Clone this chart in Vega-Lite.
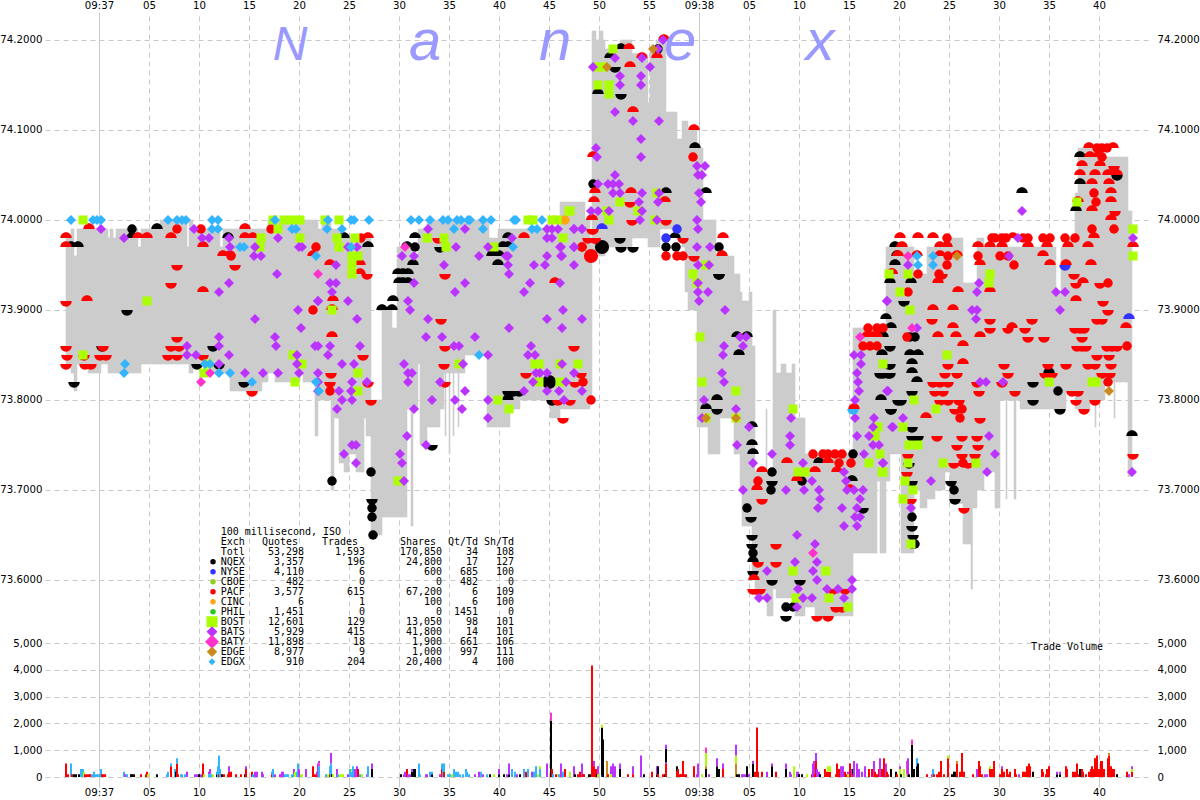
{"$schema":"https://vega.github.io/schema/vega-lite/v6.json","width":1105,"height":765,"autosize":{"type":"none"},"padding":{"left":45,"top":12,"right":50,"bottom":23},"background":"white","config":{"view":{"stroke":null},"axis":{"gridColor":"#c8c8c8","domain":false,"ticks":false,"labelFont":"DejaVu Sans","labelFontSize":10.2,"labelColor":"#000000"}},
"datasets":{
"bands":[
{"t":-3.3,"t2":-2.8,"hi":73.98,"lo":73.84},{"t":-2.8,"t2":-2.5,"hi":73.99,"lo":73.83},{"t":-2.5,"t2":-2.2,"hi":73.96,"lo":73.81},{"t":-2.2,"t2":-1.1,"hi":73.99,"lo":73.84},{"t":-1.1,"t2":0.2,"hi":73.99,"lo":73.83},{"t":0.2,"t2":0.9,"hi":73.99,"lo":73.84},{"t":0.9,"t2":1.1,"hi":73.98,"lo":73.83},{"t":1.1,"t2":1.4,"hi":73.99,"lo":73.83},{"t":1.4,"t2":1.7,"hi":73.98,"lo":73.83},{"t":1.7,"t2":3.9,"hi":73.99,"lo":73.83},{"t":3.9,"t2":4.2,"hi":73.97,"lo":73.83},{"t":4.2,"t2":6.1,"hi":73.99,"lo":73.84},{"t":6.1,"t2":8.8,"hi":74,"lo":73.84},{"t":8.8,"t2":9,"hi":73.97,"lo":73.84},{"t":9,"t2":9.4,"hi":74,"lo":73.83},{"t":9.4,"t2":11.3,"hi":73.99,"lo":73.84},{"t":11.3,"t2":12.1,"hi":73.99,"lo":73.83},{"t":12.1,"t2":12.4,"hi":73.97,"lo":73.83},{"t":12.4,"t2":13.1,"hi":73.99,"lo":73.83},{"t":13.1,"t2":16.3,"hi":73.99,"lo":73.81},{"t":16.3,"t2":16.9,"hi":73.99,"lo":73.82},{"t":16.9,"t2":17.6,"hi":74,"lo":73.83},{"t":17.6,"t2":20.1,"hi":74,"lo":73.82},{"t":20.1,"t2":20.4,"hi":74,"lo":73.83},{"t":20.4,"t2":21.6,"hi":74,"lo":73.82},{"t":21.6,"t2":21.9,"hi":74,"lo":73.76},{"t":21.9,"t2":22.3,"hi":73.99,"lo":73.8},{"t":22.3,"t2":23.2,"hi":74,"lo":73.8},{"t":23.2,"t2":23.5,"hi":73.99,"lo":73.7},{"t":23.5,"t2":24,"hi":73.99,"lo":73.78},{"t":24,"t2":24.5,"hi":73.99,"lo":73.73},{"t":24.5,"t2":25,"hi":73.98,"lo":73.72},{"t":25,"t2":25.7,"hi":73.98,"lo":73.74},{"t":25.7,"t2":26.5,"hi":73.98,"lo":73.72},{"t":26.5,"t2":26.7,"hi":73.97,"lo":73.78},{"t":26.7,"t2":27.2,"hi":73.98,"lo":73.76},{"t":27.2,"t2":28.3,"hi":73.8,"lo":73.65},{"t":28.3,"t2":29.3,"hi":73.9,"lo":73.67},{"t":29.3,"t2":29.8,"hi":73.88,"lo":73.67},{"t":29.8,"t2":30.8,"hi":73.97,"lo":73.67},{"t":30.8,"t2":31.2,"hi":73.97,"lo":73.79},{"t":31.2,"t2":31.4,"hi":73.97,"lo":73.66},{"t":31.4,"t2":31.9,"hi":73.96,"lo":73.79},{"t":31.9,"t2":32.1,"hi":73.99,"lo":73.84},{"t":32.1,"t2":32.8,"hi":73.99,"lo":73.75},{"t":32.8,"t2":33.5,"hi":74,"lo":73.77},{"t":33.5,"t2":34.1,"hi":74,"lo":73.77},{"t":34.1,"t2":34.5,"hi":74,"lo":73.79},{"t":34.5,"t2":36.6,"hi":74,"lo":73.83},{"t":34.6,"t2":34.7,"hi":73.84,"lo":73.76},{"t":35,"t2":35.1,"hi":73.84,"lo":73.74},{"t":35.4,"t2":35.5,"hi":73.84,"lo":73.76},{"t":35.9,"t2":36,"hi":73.84,"lo":73.77},{"t":36.6,"t2":38.8,"hi":74,"lo":73.85},{"t":38.8,"t2":39,"hi":74,"lo":73.77},{"t":39,"t2":39.9,"hi":73.98,"lo":73.77},{"t":39.9,"t2":41.1,"hi":73.99,"lo":73.77},{"t":41.1,"t2":42.1,"hi":73.99,"lo":73.79},{"t":42.1,"t2":45.1,"hi":73.99,"lo":73.8},{"t":45.1,"t2":46.1,"hi":73.99,"lo":73.78},{"t":46.1,"t2":48.6,"hi":74.02,"lo":73.79},{"t":48.6,"t2":49.1,"hi":74,"lo":73.79},{"t":49.1,"t2":49.3,"hi":73.98,"lo":73.8},{"t":49.3,"t2":49.7,"hi":74.21,"lo":73.96},{"t":49.7,"t2":50,"hi":74.2,"lo":73.96},{"t":50,"t2":50.4,"hi":74.21,"lo":73.96},{"t":50.4,"t2":50.6,"hi":74.2,"lo":73.96},{"t":50.6,"t2":52.1,"hi":74.19,"lo":73.97},{"t":52.1,"t2":53.3,"hi":74.2,"lo":73.97},{"t":53.3,"t2":53.9,"hi":74.185,"lo":73.98},{"t":53.9,"t2":54.9,"hi":74.18,"lo":73.98},{"t":54.9,"t2":55.1,"hi":74.13,"lo":73.97},{"t":55.1,"t2":55.7,"hi":74.19,"lo":73.97},{"t":55.7,"t2":56.1,"hi":74.2,"lo":73.97},{"t":56.1,"t2":56.7,"hi":74.2,"lo":73.99},{"t":56.7,"t2":57.8,"hi":74.12,"lo":73.99},{"t":57.8,"t2":58.3,"hi":74.09,"lo":73.98},{"t":58.3,"t2":58.6,"hi":74.11,"lo":73.97},{"t":58.6,"t2":58.9,"hi":74.11,"lo":73.92},{"t":58.9,"t2":59.8,"hi":74.1,"lo":73.9},{"t":59.8,"t2":60.4,"hi":74.08,"lo":73.77},{"t":60.4,"t2":60.9,"hi":74,"lo":73.77},{"t":60.9,"t2":61.7,"hi":74,"lo":73.74},{"t":61.7,"t2":62.1,"hi":73.96,"lo":73.74},{"t":62.1,"t2":63.5,"hi":73.96,"lo":73.78},{"t":63.5,"t2":64.1,"hi":73.94,"lo":73.74},{"t":64.1,"t2":64.3,"hi":73.92,"lo":73.7},{"t":64.3,"t2":65,"hi":73.91,"lo":73.66},{"t":65,"t2":65.3,"hi":73.92,"lo":73.66},{"t":65.3,"t2":65.6,"hi":73.86,"lo":73.61},{"t":65.6,"t2":66.7,"hi":73.72,"lo":73.58},{"t":66.7,"t2":66.8,"hi":73.79,"lo":73.58},{"t":66.8,"t2":67.4,"hi":73.72,"lo":73.56},{"t":67.4,"t2":67.7,"hi":73.9,"lo":73.59},{"t":67.7,"t2":68.2,"hi":73.83,"lo":73.58},{"t":68.2,"t2":68.7,"hi":73.84,"lo":73.58},{"t":68.7,"t2":69.3,"hi":73.83,"lo":73.58},{"t":69.3,"t2":69.6,"hi":73.84,"lo":73.58},{"t":69.6,"t2":70.6,"hi":73.78,"lo":73.56},{"t":70.6,"t2":71.6,"hi":73.74,"lo":73.57},{"t":71.6,"t2":75.4,"hi":73.74,"lo":73.56},{"t":75.4,"t2":77.8,"hi":73.88,"lo":73.63},{"t":77.8,"t2":78.1,"hi":73.88,"lo":73.71},{"t":78.1,"t2":78.7,"hi":73.88,"lo":73.63},{"t":78.7,"t2":79.1,"hi":73.97,"lo":73.71},{"t":79.1,"t2":80.2,"hi":73.97,"lo":73.74},{"t":80.2,"t2":81.5,"hi":73.97,"lo":73.63},{"t":81.5,"t2":82.1,"hi":73.94,"lo":73.7},{"t":82.1,"t2":82.8,"hi":73.94,"lo":73.68},{"t":82.8,"t2":83.6,"hi":73.97,"lo":73.69},{"t":83.6,"t2":84.6,"hi":73.97,"lo":73.7},{"t":84.6,"t2":85.1,"hi":73.97,"lo":73.72},{"t":85.1,"t2":86.4,"hi":73.98,"lo":73.685},{"t":86.4,"t2":87.3,"hi":73.93,"lo":73.64},{"t":87.2,"t2":87.35,"hi":73.7,"lo":73.59},{"t":87.3,"t2":87.8,"hi":73.93,"lo":73.68},{"t":87.8,"t2":88.5,"hi":73.98,"lo":73.7},{"t":88.5,"t2":89.6,"hi":73.97,"lo":73.72},{"t":89.6,"t2":90.1,"hi":73.97,"lo":73.68},{"t":90.1,"t2":92.1,"hi":73.97,"lo":73.8},{"t":90.7,"t2":90.8,"hi":73.8,"lo":73.69},{"t":91.5,"t2":91.7,"hi":73.8,"lo":73.69},{"t":92.1,"t2":95.7,"hi":73.97,"lo":73.79},{"t":95.7,"t2":96.2,"hi":73.92,"lo":73.79},{"t":96.2,"t2":96.7,"hi":73.97,"lo":73.79},{"t":96.7,"t2":97.6,"hi":73.98,"lo":73.81},{"t":97.6,"t2":97.9,"hi":74.03,"lo":73.79},{"t":97.9,"t2":99.1,"hi":74.08,"lo":73.79},{"t":99.1,"t2":100.6,"hi":74.08,"lo":73.8},{"t":99.6,"t2":99.7,"hi":73.8,"lo":73.77},{"t":100.6,"t2":102.9,"hi":74.07,"lo":73.82},{"t":101.5,"t2":101.6,"hi":73.82,"lo":73.78},{"t":102.9,"t2":103.3,"hi":74.01,"lo":73.715}
],
"volume":[
{"t":-3.3,"v":500,"e":"PACF"},{"t":-3.1,"v":100,"e":"PACF"},{"t":-2.8,"v":500,"e":"EDGX"},{"t":-2.7,"v":100,"e":"PACF"},{"t":-2.5,"v":100,"e":"NQEX"},{"t":-2.3,"v":100,"e":"NQEX"},{"t":-2,"v":100,"e":"NQEX"},{"t":-1.8,"v":300,"e":"EDGX"},{"t":-1.7,"v":100,"e":"EDGX"},{"t":-1.6,"v":300,"e":"EDGX"},{"t":-1.5,"v":200,"e":"BOST"},{"t":-1.4,"v":100,"e":"PACF"},{"t":-1.2,"v":100,"e":"PACF"},{"t":-1,"v":100,"e":"PACF"},{"t":-0.9,"v":100,"e":"PACF"},{"t":-0.7,"v":100,"e":"EDGX"},{"t":-0.5,"v":200,"e":"EDGX"},{"t":-0.4,"v":100,"e":"EDGX"},{"t":-0.2,"v":100,"e":"EDGX"},{"t":-0.1,"v":100,"e":"EDGX"},{"t":0.1,"v":100,"e":"EDGX"},{"t":0.2,"v":300,"e":"EDGX"},{"t":0.3,"v":100,"e":"PACF"},{"t":0.4,"v":100,"e":"PACF"},{"t":0.6,"v":100,"e":"PACF"},{"t":2.5,"v":200,"e":"EDGX"},{"t":2.6,"v":100,"e":"BATS"},{"t":2.8,"v":100,"e":"EDGX"},{"t":3.2,"v":100,"e":"NQEX"},{"t":3.3,"v":100,"e":"NQEX"},{"t":3.5,"v":100,"e":"NQEX"},{"t":4.2,"v":100,"e":"PACF"},{"t":4.7,"v":100,"e":"PACF"},{"t":4.8,"v":200,"e":"PACF"},{"t":4.9,"v":100,"e":"BOST"},{"t":5.8,"v":100,"e":"NQEX"},{"t":6.8,"v":100,"e":"EDGX"},{"t":6.9,"v":200,"e":"EDGX"},{"t":7.2,"v":400,"e":"PACF"},{"t":7.2,"v":100,"e":"EDGX"},{"t":7.6,"v":300,"e":"EDGX"},{"t":7.7,"v":200,"e":"NQEX"},{"t":7.8,"v":500,"e":"PACF"},{"t":7.8,"v":200,"e":"EDGX"},{"t":7.9,"v":100,"e":"PACF"},{"t":8.2,"v":100,"e":"EDGX"},{"t":8.3,"v":100,"e":"EDGX"},{"t":8.6,"v":100,"e":"EDGX"},{"t":8.8,"v":200,"e":"BATS"},{"t":9.6,"v":100,"e":"BATS"},{"t":9.8,"v":100,"e":"BATS"},{"t":10,"v":100,"e":"NQEX"},{"t":10.2,"v":100,"e":"BATS"},{"t":10.4,"v":500,"e":"PACF"},{"t":10.5,"v":100,"e":"BOST"},{"t":11,"v":100,"e":"BATS"},{"t":11,"v":100,"e":"EDGX"},{"t":11.1,"v":200,"e":"BATS"},{"t":11.1,"v":100,"e":"EDGX"},{"t":11.3,"v":100,"e":"EDGX"},{"t":11.4,"v":100,"e":"BOST"},{"t":11.8,"v":100,"e":"NQEX"},{"t":11.8,"v":100,"e":"EDGX"},{"t":11.9,"v":400,"e":"EDGX"},{"t":12,"v":100,"e":"PACF"},{"t":12,"v":700,"e":"EDGX"},{"t":12.1,"v":300,"e":"EDGX"},{"t":12.3,"v":100,"e":"NQEX"},{"t":12.5,"v":100,"e":"PACF"},{"t":12.9,"v":100,"e":"PACF"},{"t":13,"v":200,"e":"PACF"},{"t":13,"v":200,"e":"BATS"},{"t":13.2,"v":200,"e":"PACF"},{"t":13.7,"v":100,"e":"PACF"},{"t":14.2,"v":100,"e":"PACF"},{"t":14.6,"v":100,"e":"NQEX"},{"t":14.7,"v":300,"e":"PACF"},{"t":14.7,"v":100,"e":"BATS"},{"t":15.3,"v":200,"e":"PACF"},{"t":15.4,"v":100,"e":"EDGX"},{"t":15.6,"v":200,"e":"BATS"},{"t":15.8,"v":200,"e":"BATS"},{"t":16.3,"v":200,"e":"BATS"},{"t":16.4,"v":100,"e":"BATS"},{"t":17.3,"v":100,"e":"EDGX"},{"t":17.3,"v":100,"e":"PACF"},{"t":17.4,"v":300,"e":"EDGX"},{"t":17.6,"v":100,"e":"BATS"},{"t":18.1,"v":100,"e":"BATS"},{"t":18.3,"v":200,"e":"BATS"},{"t":18.4,"v":200,"e":"BATS"},{"t":18.6,"v":100,"e":"EDGX"},{"t":18.8,"v":100,"e":"EDGX"},{"t":18.9,"v":100,"e":"EDGX"},{"t":19.3,"v":100,"e":"EDGX"},{"t":19.5,"v":200,"e":"BATS"},{"t":19.5,"v":100,"e":"EDGX"},{"t":19.6,"v":200,"e":"BOST"},{"t":19.8,"v":200,"e":"EDGX"},{"t":19.9,"v":500,"e":"EDGX"},{"t":20,"v":300,"e":"BATS"},{"t":20.2,"v":100,"e":"BOST"},{"t":20.3,"v":100,"e":"BOST"},{"t":20.7,"v":300,"e":"BATS"},{"t":21.4,"v":400,"e":"PACF"},{"t":21.6,"v":100,"e":"PACF"},{"t":21.8,"v":100,"e":"PACF"},{"t":21.8,"v":100,"e":"BATS"},{"t":21.9,"v":500,"e":"BATS"},{"t":22,"v":100,"e":"BATS"},{"t":22,"v":100,"e":"BATY"},{"t":22,"v":400,"e":"EDGX"},{"t":22.7,"v":100,"e":"EDGX"},{"t":22.9,"v":100,"e":"BOST"},{"t":23.1,"v":100,"e":"PACF"},{"t":23.1,"v":300,"e":"EDGX"},{"t":23.2,"v":400,"e":"BATS"},{"t":23.2,"v":500,"e":"EDGX"},{"t":23.3,"v":100,"e":"NQEX"},{"t":23.4,"v":100,"e":"BOST"},{"t":23.8,"v":300,"e":"BATS"},{"t":23.9,"v":100,"e":"EDGX"},{"t":24.1,"v":100,"e":"BOST"},{"t":24.3,"v":100,"e":"BOST"},{"t":24.4,"v":100,"e":"BOST"},{"t":24.9,"v":100,"e":"BATS"},{"t":25.1,"v":300,"e":"EDGX"},{"t":25.3,"v":200,"e":"EDGX"},{"t":25.3,"v":100,"e":"BOST"},{"t":25.4,"v":400,"e":"EDGX"},{"t":25.6,"v":300,"e":"BATS"},{"t":25.8,"v":400,"e":"BATS"},{"t":25.9,"v":300,"e":"PACF"},{"t":26.1,"v":100,"e":"EDGX"},{"t":26.3,"v":100,"e":"BOST"},{"t":26.8,"v":100,"e":"BATS"},{"t":26.9,"v":400,"e":"EDGX"},{"t":27.3,"v":300,"e":"NQEX"},{"t":27.3,"v":200,"e":"BATS"},{"t":30.2,"v":100,"e":"NQEX"},{"t":30.5,"v":100,"e":"BATS"},{"t":30.6,"v":200,"e":"BATS"},{"t":30.8,"v":300,"e":"PACF"},{"t":30.9,"v":100,"e":"BATS"},{"t":31.1,"v":100,"e":"BATS"},{"t":31.3,"v":200,"e":"NQEX"},{"t":31.3,"v":100,"e":"BATS"},{"t":31.5,"v":300,"e":"NQEX"},{"t":31.6,"v":300,"e":"NQEX"},{"t":32,"v":500,"e":"EDGX"},{"t":32.1,"v":100,"e":"EDGX"},{"t":32.7,"v":100,"e":"BATS"},{"t":32.8,"v":100,"e":"BATS"},{"t":33.1,"v":200,"e":"EDGX"},{"t":33.3,"v":100,"e":"NQEX"},{"t":33.3,"v":100,"e":"EDGX"},{"t":34.1,"v":100,"e":"BATS"},{"t":34.3,"v":300,"e":"PACF"},{"t":34.3,"v":200,"e":"EDGX"},{"t":34.4,"v":400,"e":"EDGX"},{"t":34.5,"v":200,"e":"PACF"},{"t":34.5,"v":300,"e":"EDGX"},{"t":34.9,"v":100,"e":"EDGX"},{"t":35.1,"v":100,"e":"EDGX"},{"t":35.3,"v":100,"e":"BOST"},{"t":35.5,"v":300,"e":"EDGX"},{"t":35.7,"v":200,"e":"EDGX"},{"t":35.9,"v":200,"e":"EDGX"},{"t":36.1,"v":100,"e":"EDGX"},{"t":36.4,"v":100,"e":"EDGX"},{"t":36.7,"v":300,"e":"EDGX"},{"t":36.8,"v":200,"e":"EDGX"},{"t":37,"v":100,"e":"EDGX"},{"t":37.6,"v":100,"e":"BATS"},{"t":38,"v":200,"e":"BATS"},{"t":38.2,"v":200,"e":"EDGX"},{"t":38.4,"v":100,"e":"BATS"},{"t":38.8,"v":100,"e":"EDGX"},{"t":39.1,"v":100,"e":"NQEX"},{"t":39.5,"v":100,"e":"BOST"},{"t":40,"v":100,"e":"NQEX"},{"t":40,"v":200,"e":"BATS"},{"t":40.5,"v":100,"e":"NQEX"},{"t":40.8,"v":100,"e":"BATS"},{"t":41,"v":100,"e":"NQEX"},{"t":41,"v":400,"e":"BATS"},{"t":41.3,"v":300,"e":"EDGX"},{"t":41.6,"v":200,"e":"EDGX"},{"t":41.8,"v":100,"e":"BATS"},{"t":42.1,"v":100,"e":"NQEX"},{"t":42.5,"v":300,"e":"EDGX"},{"t":42.7,"v":200,"e":"PACF"},{"t":42.9,"v":300,"e":"EDGX"},{"t":43.3,"v":200,"e":"BATS"},{"t":43.5,"v":200,"e":"EDGX"},{"t":43.7,"v":400,"e":"EDGX"},{"t":43.9,"v":100,"e":"BOST"},{"t":44.1,"v":300,"e":"EDGX"},{"t":44.1,"v":100,"e":"BOST"},{"t":44.8,"v":500,"e":"BATS"},{"t":45.2,"v":2100,"e":"NQEX"},{"t":45.2,"v":300,"e":"BATY"},{"t":45.3,"v":300,"e":"PACF"},{"t":45.4,"v":100,"e":"EDGX"},{"t":45.7,"v":100,"e":"PACF"},{"t":45.9,"v":100,"e":"BOST"},{"t":46,"v":100,"e":"EDGX"},{"t":46.2,"v":500,"e":"BATS"},{"t":46.4,"v":200,"e":"EDGX"},{"t":46.6,"v":300,"e":"PACF"},{"t":47.1,"v":200,"e":"BOST"},{"t":47.5,"v":400,"e":"BATS"},{"t":47.6,"v":100,"e":"NQEX"},{"t":47.9,"v":100,"e":"PACF"},{"t":48.1,"v":200,"e":"PACF"},{"t":48.3,"v":500,"e":"BATS"},{"t":48.4,"v":100,"e":"PACF"},{"t":48.5,"v":100,"e":"PACF"},{"t":49,"v":100,"e":"NQEX"},{"t":49.2,"v":100,"e":"NQEX"},{"t":49.3,"v":4160,"e":"PACF"},{"t":49.4,"v":500,"e":"PACF"},{"t":49.5,"v":400,"e":"PACF"},{"t":49.5,"v":200,"e":"BATS"},{"t":49.7,"v":300,"e":"PACF"},{"t":49.8,"v":100,"e":"NQEX"},{"t":49.9,"v":300,"e":"BATS"},{"t":49.9,"v":100,"e":"BOST"},{"t":50.3,"v":1800,"e":"NQEX"},{"t":50.3,"v":50,"e":"NYSE"},{"t":50.3,"v":100,"e":"BOST"},{"t":50.4,"v":1400,"e":"NQEX"},{"t":50.8,"v":600,"e":"EDGE"},{"t":50.9,"v":100,"e":"PACF"},{"t":51.2,"v":300,"e":"BATS"},{"t":51.2,"v":100,"e":"BOST"},{"t":51.4,"v":500,"e":"BATS"},{"t":51.6,"v":400,"e":"BATS"},{"t":52.1,"v":300,"e":"NQEX"},{"t":52.1,"v":200,"e":"BATS"},{"t":52.9,"v":100,"e":"PACF"},{"t":53.4,"v":300,"e":"BATS"},{"t":53.4,"v":100,"e":"PACF"},{"t":54.2,"v":800,"e":"BATS"},{"t":54.5,"v":100,"e":"NQEX"},{"t":55.3,"v":200,"e":"PACF"},{"t":55.8,"v":100,"e":"NQEX"},{"t":55.8,"v":300,"e":"BATS"},{"t":55.9,"v":300,"e":"NQEX"},{"t":55.9,"v":100,"e":"PACF"},{"t":56.4,"v":100,"e":"PACF"},{"t":56.6,"v":100,"e":"NQEX"},{"t":56.7,"v":500,"e":"NQEX"},{"t":56.7,"v":50,"e":"NYSE"},{"t":56.7,"v":500,"e":"PACF"},{"t":56.7,"v":150,"e":"BATS"},{"t":57.8,"v":200,"e":"NQEX"},{"t":57.8,"v":200,"e":"PACF"},{"t":57.9,"v":300,"e":"PACF"},{"t":58.1,"v":100,"e":"PACF"},{"t":58.2,"v":100,"e":"PACF"},{"t":58.3,"v":100,"e":"PACF"},{"t":58.4,"v":600,"e":"PACF"},{"t":58.5,"v":100,"e":"PACF"},{"t":58.7,"v":100,"e":"PACF"},{"t":59.5,"v":400,"e":"PACF"},{"t":59.8,"v":100,"e":"BATS"},{"t":59.9,"v":500,"e":"BATS"},{"t":60.3,"v":100,"e":"BOST"},{"t":60.7,"v":300,"e":"NQEX"},{"t":60.7,"v":500,"e":"BOST"},{"t":60.7,"v":200,"e":"BATY"},{"t":60.7,"v":100,"e":"EDGE"},{"t":61,"v":100,"e":"BATS"},{"t":61.8,"v":400,"e":"NQEX"},{"t":61.8,"v":300,"e":"BATS"},{"t":62,"v":300,"e":"NQEX"},{"t":62.4,"v":300,"e":"PACF"},{"t":62.4,"v":200,"e":"BATS"},{"t":63.7,"v":300,"e":"BOST"},{"t":63.7,"v":400,"e":"BATS"},{"t":63.7,"v":500,"e":"EDGE"},{"t":63.8,"v":100,"e":"NQEX"},{"t":64,"v":100,"e":"NQEX"},{"t":64.3,"v":100,"e":"BATS"},{"t":64.5,"v":100,"e":"BATS"},{"t":64.7,"v":100,"e":"BATS"},{"t":64.9,"v":100,"e":"BATS"},{"t":65,"v":100,"e":"BATS"},{"t":64.8,"v":400,"e":"NQEX"},{"t":65.4,"v":500,"e":"NQEX"},{"t":65.4,"v":100,"e":"BATS"},{"t":65.6,"v":200,"e":"PACF"},{"t":65.8,"v":1850,"e":"PACF"},{"t":65.9,"v":200,"e":"PACF"},{"t":66.3,"v":200,"e":"PACF"},{"t":66.8,"v":200,"e":"BATS"},{"t":67.3,"v":400,"e":"NQEX"},{"t":67.3,"v":100,"e":"BATS"},{"t":67.7,"v":200,"e":"PACF"},
{"t":68.7,"v":300,"e":"NQEX"},{"t":68.7,"v":200,"e":"BATS"},{"t":69.1,"v":200,"e":"BATS"},{"t":69.2,"v":100,"e":"BATS"},{"t":69.5,"v":400,"e":"BOST"},{"t":69.8,"v":200,"e":"BATS"},{"t":69.9,"v":200,"e":"BATS"},{"t":70,"v":100,"e":"NQEX"},{"t":70.3,"v":100,"e":"NQEX"},{"t":70.8,"v":100,"e":"BOST"},{"t":71.3,"v":100,"e":"PACF"},{"t":71.4,"v":500,"e":"BATS"},{"t":71.5,"v":600,"e":"BATS"},{"t":71.6,"v":100,"e":"PACF"},{"t":71.7,"v":600,"e":"PACF"},{"t":71.7,"v":300,"e":"BATS"},{"t":71.8,"v":300,"e":"BATS"},{"t":72,"v":200,"e":"BATS"},{"t":72.1,"v":100,"e":"NQEX"},{"t":72.6,"v":300,"e":"PACF"},{"t":72.7,"v":200,"e":"PACF"},{"t":72.9,"v":200,"e":"PACF"},{"t":72.9,"v":200,"e":"BOST"},{"t":73.1,"v":200,"e":"PACF"},{"t":73.1,"v":200,"e":"BOST"},{"t":73.7,"v":100,"e":"PACF"},{"t":73.8,"v":500,"e":"PACF"},{"t":74,"v":300,"e":"PACF"},{"t":74.2,"v":400,"e":"BATS"},{"t":74.4,"v":400,"e":"BATS"},{"t":74.6,"v":200,"e":"PACF"},{"t":74.8,"v":100,"e":"PACF"},{"t":74.9,"v":100,"e":"BATS"},{"t":74.9,"v":100,"e":"BOST"},{"t":75.1,"v":500,"e":"PACF"},{"t":75.3,"v":300,"e":"BATS"},{"t":75.4,"v":100,"e":"PACF"},{"t":75.4,"v":200,"e":"NQEX"},{"t":75.5,"v":600,"e":"BATS"},{"t":75.8,"v":500,"e":"BATS"},{"t":76,"v":300,"e":"BATS"},{"t":76.3,"v":200,"e":"BATS"},{"t":76.6,"v":400,"e":"BATS"},{"t":77,"v":300,"e":"PACF"},{"t":77.3,"v":300,"e":"PACF"},{"t":77.5,"v":600,"e":"BATS"},{"t":77.6,"v":200,"e":"PACF"},{"t":77.8,"v":100,"e":"PACF"},{"t":78,"v":300,"e":"PACF"},{"t":78.1,"v":700,"e":"BATS"},{"t":78.3,"v":300,"e":"PACF"},{"t":78.5,"v":700,"e":"PACF"},{"t":78.7,"v":500,"e":"BATS"},{"t":78.8,"v":200,"e":"PACF"},{"t":78.9,"v":100,"e":"PACF"},{"t":79.2,"v":300,"e":"NQEX"},{"t":79.7,"v":200,"e":"NQEX"},{"t":79.8,"v":100,"e":"PACF"},{"t":80.1,"v":100,"e":"BATS"},{"t":80.1,"v":300,"e":"BOST"},{"t":80.2,"v":100,"e":"NQEX"},{"t":80.5,"v":300,"e":"BOST"},{"t":80.8,"v":100,"e":"BOST"},{"t":80.8,"v":500,"e":"BATY"},{"t":80.9,"v":700,"e":"BATS"},{"t":81,"v":100,"e":"NQEX"},{"t":81.3,"v":1200,"e":"NQEX"},{"t":81.3,"v":200,"e":"BATY"},{"t":81.5,"v":300,"e":"NQEX"},{"t":81.8,"v":400,"e":"NQEX"},{"t":81.8,"v":300,"e":"EDGX"},{"t":81.9,"v":500,"e":"NQEX"},{"t":82.8,"v":100,"e":"PACF"},{"t":83.3,"v":100,"e":"BATS"},{"t":83.4,"v":300,"e":"EDGX"},{"t":83.5,"v":100,"e":"PACF"},{"t":83.8,"v":100,"e":"PACF"},{"t":84,"v":200,"e":"PACF"},{"t":84.2,"v":600,"e":"PACF"},{"t":84.5,"v":100,"e":"PACF"},{"t":84.9,"v":700,"e":"PACF"},{"t":84.9,"v":100,"e":"BOST"},{"t":85.3,"v":100,"e":"NQEX"},{"t":85.5,"v":200,"e":"NQEX"},{"t":85.6,"v":200,"e":"NQEX"},{"t":85.8,"v":500,"e":"PACF"},{"t":85.8,"v":100,"e":"EDGE"},{"t":86.1,"v":200,"e":"PACF"},{"t":86.3,"v":900,"e":"PACF"},{"t":86.5,"v":200,"e":"PACF"},{"t":87.4,"v":100,"e":"PACF"},{"t":87.8,"v":300,"e":"BATS"},{"t":87.9,"v":300,"e":"BATS"},{"t":88,"v":600,"e":"PACF"},{"t":88.1,"v":400,"e":"PACF"},{"t":88.3,"v":100,"e":"PACF"},{"t":88.6,"v":100,"e":"BATS"},{"t":88.8,"v":100,"e":"BATS"},{"t":89.1,"v":300,"e":"PACF"},{"t":89.1,"v":100,"e":"BOST"},{"t":89.3,"v":300,"e":"PACF"},{"t":89.5,"v":600,"e":"PACF"},{"t":90.1,"v":100,"e":"PACF"},{"t":90.3,"v":300,"e":"PACF"},{"t":90.3,"v":100,"e":"BATS"},{"t":90.5,"v":200,"e":"PACF"},{"t":90.8,"v":300,"e":"PACF"},{"t":90.9,"v":100,"e":"PACF"},{"t":91.1,"v":200,"e":"PACF"},{"t":91.6,"v":300,"e":"PACF"},{"t":91.7,"v":100,"e":"PACF"},{"t":92,"v":100,"e":"BATS"},{"t":92.4,"v":200,"e":"PACF"},{"t":92.6,"v":200,"e":"PACF"},{"t":92.8,"v":400,"e":"PACF"},{"t":93,"v":500,"e":"PACF"},{"t":93.1,"v":400,"e":"PACF"},{"t":93.4,"v":200,"e":"NQEX"},{"t":94.3,"v":300,"e":"PACF"},{"t":94.4,"v":200,"e":"PACF"},{"t":94.7,"v":100,"e":"PACF"},{"t":94.8,"v":300,"e":"PACF"},{"t":95,"v":400,"e":"PACF"},{"t":95.8,"v":100,"e":"NQEX"},{"t":95.8,"v":100,"e":"BATS"},{"t":96.1,"v":100,"e":"NQEX"},{"t":96.1,"v":100,"e":"BATS"},{"t":96.7,"v":400,"e":"PACF"},{"t":96.8,"v":300,"e":"PACF"},{"t":97.4,"v":200,"e":"PACF"},{"t":97.6,"v":200,"e":"PACF"},{"t":97.8,"v":500,"e":"PACF"},{"t":97.9,"v":100,"e":"PACF"},{"t":98.1,"v":300,"e":"NQEX"},{"t":98.3,"v":300,"e":"PACF"},{"t":98.4,"v":200,"e":"PACF"},{"t":98.7,"v":100,"e":"PACF"},{"t":99,"v":200,"e":"PACF"},{"t":99.2,"v":300,"e":"PACF"},{"t":99.3,"v":400,"e":"PACF"},{"t":99.5,"v":300,"e":"PACF"},{"t":99.6,"v":700,"e":"PACF"},{"t":99.8,"v":800,"e":"PACF"},{"t":100,"v":300,"e":"PACF"},{"t":100.2,"v":600,"e":"PACF"},{"t":100.3,"v":600,"e":"PACF"},{"t":100.5,"v":300,"e":"PACF"},{"t":100.9,"v":700,"e":"PACF"},{"t":101,"v":800,"e":"PACF"},{"t":101,"v":100,"e":"EDGE"},{"t":101.2,"v":400,"e":"PACF"},{"t":101.3,"v":300,"e":"PACF"},{"t":101.5,"v":300,"e":"PACF"},{"t":101.8,"v":100,"e":"NQEX"},{"t":102.8,"v":200,"e":"PACF"},{"t":103,"v":100,"e":"BATS"},{"t":103.3,"v":200,"e":"PACF"},{"t":103.3,"v":100,"e":"BOST"},{"t":103.3,"v":100,"e":"BATS"}
],
"marks":[
{"t":-2.8,"p":73.97,"e":"NQEX","k":"ask"},{"t":-2.1,"p":73.97,"e":"NQEX","k":"ask"},{"t":3.3,"p":73.98,"e":"NQEX","k":"ask"},{"t":5.8,"p":73.99,"e":"NQEX","k":"ask"},{"t":3.3,"p":73.99,"e":"NQEX","k":"trade"},{"t":2.8,"p":73.9,"e":"NQEX","k":"bid"},{"t":-2.5,"p":73.82,"e":"NQEX","k":"bid"},{"t":0.3,"p":73.86,"e":"NQEX","k":"bid"},{"t":11.4,"p":73.86,"e":"NQEX","k":"bid"},{"t":9.8,"p":73.84,"e":"NQEX","k":"bid"},{"t":12,"p":73.84,"e":"NQEX","k":"bid"},{"t":14.5,"p":73.82,"e":"NQEX","k":"bid"},{"t":12.9,"p":73.98,"e":"NQEX","k":"ask"},{"t":24.5,"p":73.98,"e":"NQEX","k":"ask"},{"t":31.6,"p":73.98,"e":"NQEX","k":"ask"},{"t":40.9,"p":73.98,"e":"NQEX","k":"ask"},{"t":26.9,"p":73.97,"e":"NQEX","k":"ask"},{"t":40.4,"p":73.97,"e":"NQEX","k":"ask"},{"t":40.9,"p":73.97,"e":"NQEX","k":"ask"},{"t":29.4,"p":73.91,"e":"NQEX","k":"ask"},{"t":28.3,"p":73.9,"e":"NQEX","k":"ask"},{"t":29.3,"p":73.9,"e":"NQEX","k":"ask"},{"t":29.9,"p":73.94,"e":"NQEX","k":"ask"},{"t":30.4,"p":73.94,"e":"NQEX","k":"ask"},{"t":30.9,"p":73.94,"e":"NQEX","k":"ask"},{"t":30,"p":73.93,"e":"NQEX","k":"ask"},{"t":30.4,"p":73.93,"e":"NQEX","k":"ask"},{"t":30.9,"p":73.93,"e":"NQEX","k":"ask"},{"t":31.4,"p":73.95,"e":"NQEX","k":"ask"},{"t":39.9,"p":73.95,"e":"NQEX","k":"ask"},{"t":39.3,"p":73.96,"e":"NQEX","k":"ask"},{"t":40,"p":73.96,"e":"NQEX","k":"ask"},{"t":30.8,"p":73.97,"e":"NQEX","k":"ask"},{"t":40.9,"p":73.8,"e":"NQEX","k":"ask"},{"t":33.3,"p":73.75,"e":"NQEX","k":"bid"},{"t":40.9,"p":73.81,"e":"NQEX","k":"bid"},{"t":41.4,"p":73.81,"e":"NQEX","k":"bid"},{"t":42,"p":73.81,"e":"NQEX","k":"bid"},{"t":34.1,"p":73.97,"e":"NQEX","k":"bid"},{"t":27.3,"p":73.69,"e":"NQEX","k":"bid"},{"t":45.3,"p":73.8,"e":"NQEX","k":"bid"},{"t":27.2,"p":73.72,"e":"NQEX","k":"trade"},{"t":23.3,"p":73.71,"e":"NQEX","k":"trade"},{"t":27.3,"p":73.68,"e":"NQEX","k":"trade"},{"t":27.3,"p":73.67,"e":"NQEX","k":"trade"},{"t":27.4,"p":73.65,"e":"NQEX","k":"trade"},{"t":31.6,"p":73.97,"e":"NQEX","k":"trade"},{"t":52.2,"p":74.19,"e":"NQEX","k":"ask"},{"t":51.1,"p":74.18,"e":"NQEX","k":"ask"},{"t":49.9,"p":74.14,"e":"NQEX","k":"ask"},{"t":59.6,"p":74.08,"e":"NQEX","k":"ask"},{"t":60.7,"p":74.03,"e":"NQEX","k":"ask"},{"t":56.7,"p":74.03,"e":"NQEX","k":"ask"},{"t":57.6,"p":73.98,"e":"NQEX","k":"ask"},{"t":51.6,"p":74.17,"e":"NQEX","k":"bid"},{"t":52.2,"p":74.14,"e":"NQEX","k":"bid"},{"t":52.1,"p":73.98,"e":"NQEX","k":"bid"},{"t":52.2,"p":73.97,"e":"NQEX","k":"bid"},{"t":53.4,"p":73.97,"e":"NQEX","k":"bid"},{"t":62,"p":73.94,"e":"NQEX","k":"bid"},{"t":49.4,"p":74.04,"e":"NQEX","k":"trade"},{"t":56.7,"p":73.97,"e":"NQEX","k":"trade"},{"t":57.7,"p":73.97,"e":"NQEX","k":"trade"},{"t":62,"p":73.97,"e":"NQEX","k":"trade"},{"t":55.9,"p":74.19,"e":"NQEX","k":"trade"},{"t":63.8,"p":73.87,"e":"NQEX","k":"ask"},{"t":64.8,"p":73.87,"e":"NQEX","k":"ask"},{"t":64,"p":73.85,"e":"NQEX","k":"ask"},{"t":61.8,"p":73.8,"e":"NQEX","k":"ask"},{"t":60.7,"p":73.79,"e":"NQEX","k":"ask"},{"t":65.3,"p":73.77,"e":"NQEX","k":"ask"},{"t":65.3,"p":73.75,"e":"NQEX","k":"ask"},{"t":65.4,"p":73.74,"e":"NQEX","k":"ask"},{"t":75.3,"p":73.71,"e":"NQEX","k":"ask"},{"t":78.2,"p":73.8,"e":"NQEX","k":"ask"},{"t":79.1,"p":73.93,"e":"NQEX","k":"ask"},{"t":78.7,"p":73.89,"e":"NQEX","k":"ask"},{"t":79.2,"p":73.88,"e":"NQEX","k":"ask"},{"t":78.4,"p":73.87,"e":"NQEX","k":"ask"},{"t":78.3,"p":73.85,"e":"NQEX","k":"ask"},{"t":79.6,"p":73.95,"e":"NQEX","k":"ask"},{"t":72,"p":73.73,"e":"NQEX","k":"ask"},{"t":65.4,"p":73.62,"e":"NQEX","k":"ask"},{"t":62,"p":73.94,"e":"NQEX","k":"bid"},{"t":61.8,"p":73.79,"e":"NQEX","k":"bid"},{"t":79.1,"p":73.86,"e":"NQEX","k":"bid"},{"t":79,"p":73.84,"e":"NQEX","k":"bid"},{"t":78.1,"p":73.83,"e":"NQEX","k":"bid"},{"t":78.9,"p":73.83,"e":"NQEX","k":"bid"},{"t":79.2,"p":73.79,"e":"NQEX","k":"bid"},{"t":67.3,"p":73.71,"e":"NQEX","k":"bid"},{"t":65.2,"p":73.67,"e":"NQEX","k":"bid"},{"t":65.3,"p":73.65,"e":"NQEX","k":"bid"},{"t":65.3,"p":73.64,"e":"NQEX","k":"bid"},{"t":65.4,"p":73.61,"e":"NQEX","k":"bid"},{"t":67.3,"p":73.6,"e":"NQEX","k":"bid"},{"t":70.1,"p":73.6,"e":"NQEX","k":"bid"},{"t":68.7,"p":73.56,"e":"NQEX","k":"bid"},{"t":76.4,"p":73.68,"e":"NQEX","k":"bid"},{"t":79.9,"p":73.8,"e":"NQEX","k":"bid"},{"t":67.3,"p":73.72,"e":"NQEX","k":"trade"},{"t":70.3,"p":73.71,"e":"NQEX","k":"trade"},{"t":67.2,"p":73.7,"e":"NQEX","k":"trade"},{"t":64.8,"p":73.68,"e":"NQEX","k":"trade"},{"t":65.4,"p":73.63,"e":"NQEX","k":"trade"},{"t":75.4,"p":73.74,"e":"NQEX","k":"trade"},{"t":68.7,"p":73.57,"e":"NQEX","k":"trade"},{"t":69.4,"p":73.57,"e":"NQEX","k":"trade"},{"t":79.6,"p":73.97,"e":"NQEX","k":"ask"},{"t":79.8,"p":73.96,"e":"NQEX","k":"ask"},{"t":81.2,"p":73.93,"e":"NQEX","k":"ask"},{"t":81.1,"p":73.85,"e":"NQEX","k":"ask"},{"t":81.9,"p":73.85,"e":"NQEX","k":"ask"},{"t":81.3,"p":73.84,"e":"NQEX","k":"ask"},{"t":81.3,"p":73.83,"e":"NQEX","k":"ask"},{"t":81.8,"p":73.82,"e":"NQEX","k":"ask"},{"t":98.1,"p":74.07,"e":"NQEX","k":"ask"},{"t":98.1,"p":74.04,"e":"NQEX","k":"ask"},{"t":97.7,"p":74.01,"e":"NQEX","k":"ask"},{"t":92.3,"p":74.03,"e":"NQEX","k":"ask"},{"t":103.3,"p":73.76,"e":"NQEX","k":"ask"},{"t":95,"p":73.83,"e":"NQEX","k":"ask"},{"t":80.5,"p":73.91,"e":"NQEX","k":"bid"},{"t":79.1,"p":73.84,"e":"NQEX","k":"bid"},{"t":78.4,"p":73.83,"e":"NQEX","k":"bid"},{"t":79.1,"p":73.83,"e":"NQEX","k":"bid"},{"t":81.3,"p":73.81,"e":"NQEX","k":"bid"},{"t":80.2,"p":73.8,"e":"NQEX","k":"bid"},{"t":93.4,"p":73.8,"e":"NQEX","k":"bid"},{"t":93.4,"p":73.82,"e":"NQEX","k":"bid"},{"t":79.2,"p":73.79,"e":"NQEX","k":"bid"},{"t":96.1,"p":73.79,"e":"NQEX","k":"bid"},{"t":81.3,"p":73.77,"e":"NQEX","k":"bid"},{"t":81.3,"p":73.76,"e":"NQEX","k":"bid"},{"t":81.9,"p":73.76,"e":"NQEX","k":"bid"},{"t":81.3,"p":73.71,"e":"NQEX","k":"bid"},{"t":85.2,"p":73.71,"e":"NQEX","k":"bid"},{"t":85.6,"p":73.69,"e":"NQEX","k":"bid"},{"t":81,"p":73.73,"e":"NQEX","k":"bid"},{"t":81.3,"p":73.66,"e":"NQEX","k":"bid"},{"t":81.4,"p":73.65,"e":"NQEX","k":"bid"},{"t":101.8,"p":74.05,"e":"NQEX","k":"bid"},{"t":81.1,"p":73.87,"e":"NQEX","k":"trade"},{"t":81.6,"p":73.87,"e":"NQEX","k":"trade"},{"t":95.9,"p":73.81,"e":"NQEX","k":"trade"},{"t":85.5,"p":73.7,"e":"NQEX","k":"trade"},{"t":81.3,"p":73.67,"e":"NQEX","k":"trade"},{"t":81.3,"p":73.64,"e":"NQEX","k":"trade"},{"t":81.6,"p":73.64,"e":"NQEX","k":"trade"},{"t":45,"p":73.82,"e":"NQEX","k":"large"},{"t":50.3,"p":73.97,"e":"NQEX","k":"large"},
{"t":56.7,"p":73.98,"e":"NYSE","k":"trade"},{"t":57.8,"p":73.99,"e":"NYSE","k":"trade"},{"t":50.3,"p":73.99,"e":"NYSE","k":"ask"},{"t":96.6,"p":73.95,"e":"NYSE","k":"bid"},{"t":103,"p":73.89,"e":"NYSE","k":"ask"},{"t":46.6,"p":74,"e":"CINC","k":"trade"},
{"t":-3.3,"p":73.98,"e":"PACF","k":"ask"},{"t":3.9,"p":73.98,"e":"PACF","k":"ask"},{"t":4.8,"p":73.98,"e":"PACF","k":"ask"},{"t":7.2,"p":73.98,"e":"PACF","k":"ask"},{"t":14.6,"p":73.98,"e":"PACF","k":"ask"},{"t":15.4,"p":73.98,"e":"PACF","k":"ask"},{"t":-1,"p":73.99,"e":"PACF","k":"ask"},{"t":14.6,"p":73.99,"e":"PACF","k":"ask"},{"t":-3.3,"p":73.97,"e":"PACF","k":"ask"},{"t":10.4,"p":73.97,"e":"PACF","k":"ask"},{"t":-1.2,"p":73.91,"e":"PACF","k":"ask"},{"t":10.4,"p":73.92,"e":"PACF","k":"ask"},{"t":12.4,"p":73.96,"e":"PACF","k":"ask"},{"t":13.1,"p":73.96,"e":"PACF","k":"ask"},{"t":21.4,"p":73.96,"e":"PACF","k":"ask"},{"t":7.8,"p":73.95,"e":"PACF","k":"bid"},{"t":13.6,"p":73.95,"e":"PACF","k":"bid"},{"t":7.2,"p":73.93,"e":"PACF","k":"bid"},{"t":-3.3,"p":73.91,"e":"PACF","k":"bid"},{"t":7.8,"p":73.87,"e":"PACF","k":"bid"},{"t":-3.3,"p":73.86,"e":"PACF","k":"bid"},{"t":0.4,"p":73.86,"e":"PACF","k":"bid"},{"t":7.2,"p":73.86,"e":"PACF","k":"bid"},{"t":8,"p":73.86,"e":"PACF","k":"bid"},{"t":-3.2,"p":73.85,"e":"PACF","k":"bid"},{"t":-1.5,"p":73.85,"e":"PACF","k":"bid"},{"t":0.1,"p":73.85,"e":"PACF","k":"bid"},{"t":0.7,"p":73.85,"e":"PACF","k":"bid"},{"t":6.9,"p":73.85,"e":"PACF","k":"bid"},{"t":7.8,"p":73.85,"e":"PACF","k":"bid"},{"t":10.4,"p":73.85,"e":"PACF","k":"bid"},{"t":-3.3,"p":73.84,"e":"PACF","k":"bid"},{"t":-1.4,"p":73.84,"e":"PACF","k":"bid"},{"t":-0.8,"p":73.84,"e":"PACF","k":"bid"},{"t":15.3,"p":73.81,"e":"PACF","k":"bid"},{"t":7.8,"p":73.99,"e":"PACF","k":"trade"},{"t":10.2,"p":73.99,"e":"PACF","k":"trade"},{"t":17.2,"p":73.99,"e":"PACF","k":"trade"},{"t":13.2,"p":73.96,"e":"PACF","k":"trade"},{"t":21.7,"p":73.97,"e":"PACF","k":"trade"},{"t":21.4,"p":73.9,"e":"PACF","k":"trade"},{"t":23.1,"p":73.95,"e":"PACF","k":"ask"},{"t":26.1,"p":73.95,"e":"PACF","k":"ask"},{"t":26.1,"p":73.94,"e":"PACF","k":"ask"},{"t":23.4,"p":73.91,"e":"PACF","k":"ask"},{"t":23.3,"p":73.9,"e":"PACF","k":"ask"},{"t":23.3,"p":73.87,"e":"PACF","k":"ask"},{"t":26.9,"p":73.98,"e":"PACF","k":"ask"},{"t":42.5,"p":73.98,"e":"PACF","k":"ask"},{"t":45.6,"p":73.93,"e":"PACF","k":"ask"},{"t":49.3,"p":74,"e":"PACF","k":"ask"},{"t":26.8,"p":73.94,"e":"PACF","k":"bid"},{"t":34.6,"p":73.94,"e":"PACF","k":"bid"},{"t":34.2,"p":73.89,"e":"PACF","k":"bid"},{"t":34.6,"p":73.86,"e":"PACF","k":"bid"},{"t":47.5,"p":73.86,"e":"PACF","k":"bid"},{"t":26.4,"p":73.85,"e":"PACF","k":"bid"},{"t":34.5,"p":73.84,"e":"PACF","k":"bid"},{"t":23.2,"p":73.83,"e":"PACF","k":"bid"},{"t":48.2,"p":73.83,"e":"PACF","k":"bid"},{"t":42.7,"p":73.83,"e":"PACF","k":"bid"},{"t":23.1,"p":73.82,"e":"PACF","k":"bid"},{"t":26.9,"p":73.82,"e":"PACF","k":"bid"},{"t":34.6,"p":73.82,"e":"PACF","k":"bid"},{"t":47.6,"p":73.82,"e":"PACF","k":"bid"},{"t":27.2,"p":73.8,"e":"PACF","k":"bid"},{"t":45.9,"p":73.8,"e":"PACF","k":"bid"},{"t":47.1,"p":73.8,"e":"PACF","k":"bid"},{"t":46.4,"p":73.78,"e":"PACF","k":"bid"},{"t":33.9,"p":73.98,"e":"PACF","k":"bid"},{"t":49.3,"p":73.99,"e":"PACF","k":"bid"},{"t":49.6,"p":73.98,"e":"PACF","k":"bid"},{"t":23.1,"p":73.81,"e":"PACF","k":"trade"},{"t":49.2,"p":73.8,"e":"PACF","k":"trade"},{"t":48.3,"p":73.97,"e":"PACF","k":"trade"},{"t":48.4,"p":73.82,"e":"PACF","k":"trade"},{"t":26.2,"p":73.98,"e":"PACF","k":"trade"},{"t":56.5,"p":74.2,"e":"PACF","k":"ask"},{"t":53,"p":74.19,"e":"PACF","k":"ask"},{"t":54.3,"p":74.18,"e":"PACF","k":"ask"},{"t":55.8,"p":74.18,"e":"PACF","k":"ask"},{"t":53.1,"p":74.17,"e":"PACF","k":"ask"},{"t":53.4,"p":74.12,"e":"PACF","k":"ask"},{"t":59.5,"p":74.1,"e":"PACF","k":"ask"},{"t":49.6,"p":74.03,"e":"PACF","k":"ask"},{"t":53.2,"p":74.03,"e":"PACF","k":"ask"},{"t":49.5,"p":74.02,"e":"PACF","k":"ask"},{"t":56.6,"p":74.02,"e":"PACF","k":"ask"},{"t":49.3,"p":74,"e":"PACF","k":"ask"},{"t":49.4,"p":74.07,"e":"PACF","k":"ask"},{"t":62.4,"p":73.98,"e":"PACF","k":"ask"},{"t":62.3,"p":73.96,"e":"PACF","k":"ask"},{"t":53.1,"p":74.02,"e":"PACF","k":"bid"},{"t":53.3,"p":74,"e":"PACF","k":"bid"},{"t":56.7,"p":74,"e":"PACF","k":"bid"},{"t":49.4,"p":73.99,"e":"PACF","k":"bid"},{"t":48.9,"p":73.98,"e":"PACF","k":"bid"},{"t":49.6,"p":73.98,"e":"PACF","k":"bid"},{"t":58.4,"p":73.98,"e":"PACF","k":"bid"},{"t":59.5,"p":73.96,"e":"PACF","k":"bid"},{"t":59.4,"p":74.07,"e":"PACF","k":"trade"},{"t":48.3,"p":73.97,"e":"PACF","k":"trade"},{"t":56.7,"p":73.96,"e":"PACF","k":"trade"},{"t":57.8,"p":73.96,"e":"PACF","k":"trade"},{"t":58.4,"p":73.96,"e":"PACF","k":"trade"},{"t":49.2,"p":73.96,"e":"PACF","k":"large"},{"t":68.8,"p":73.73,"e":"PACF","k":"ask"},{"t":66.3,"p":73.72,"e":"PACF","k":"ask"},{"t":65.8,"p":73.7,"e":"PACF","k":"ask"},{"t":71.6,"p":73.72,"e":"PACF","k":"ask"},{"t":72.9,"p":73.73,"e":"PACF","k":"ask"},{"t":73.8,"p":73.72,"e":"PACF","k":"ask"},{"t":69.8,"p":73.71,"e":"PACF","k":"ask"},{"t":75.1,"p":73.7,"e":"PACF","k":"ask"},{"t":77.3,"p":73.87,"e":"PACF","k":"ask"},{"t":79.3,"p":73.94,"e":"PACF","k":"ask"},{"t":65.5,"p":73.6,"e":"PACF","k":"ask"},{"t":75.5,"p":73.79,"e":"PACF","k":"ask"},{"t":76.8,"p":73.87,"e":"PACF","k":"ask"},{"t":77.8,"p":73.87,"e":"PACF","k":"ask"},{"t":67.7,"p":73.64,"e":"PACF","k":"bid"},{"t":65.9,"p":73.62,"e":"PACF","k":"bid"},{"t":67.7,"p":73.62,"e":"PACF","k":"bid"},{"t":66.3,"p":73.69,"e":"PACF","k":"bid"},{"t":65.4,"p":73.59,"e":"PACF","k":"bid"},{"t":65.8,"p":73.59,"e":"PACF","k":"bid"},{"t":66.1,"p":73.59,"e":"PACF","k":"bid"},{"t":73.7,"p":73.57,"e":"PACF","k":"bid"},{"t":74.3,"p":73.57,"e":"PACF","k":"bid"},{"t":71.8,"p":73.56,"e":"PACF","k":"bid"},{"t":72.9,"p":73.56,"e":"PACF","k":"bid"},{"t":73.4,"p":73.59,"e":"PACF","k":"bid"},{"t":74.6,"p":73.59,"e":"PACF","k":"bid"},{"t":71.4,"p":73.74,"e":"PACF","k":"trade"},{"t":72.4,"p":73.74,"e":"PACF","k":"trade"},{"t":72.9,"p":73.74,"e":"PACF","k":"trade"},{"t":73.6,"p":73.74,"e":"PACF","k":"trade"},{"t":74.3,"p":73.74,"e":"PACF","k":"trade"},{"t":74,"p":73.73,"e":"PACF","k":"trade"},{"t":75.2,"p":73.73,"e":"PACF","k":"trade"},{"t":65.9,"p":73.71,"e":"PACF","k":"trade"},{"t":76.9,"p":73.88,"e":"PACF","k":"trade"},{"t":77.8,"p":73.88,"e":"PACF","k":"trade"},{"t":78.4,"p":73.88,"e":"PACF","k":"trade"},{"t":76.4,"p":73.86,"e":"PACF","k":"trade"},{"t":77.1,"p":73.86,"e":"PACF","k":"trade"},{"t":77.8,"p":73.86,"e":"PACF","k":"trade"},
{"t":84.8,"p":73.98,"e":"PACF","k":"trade"},{"t":89.3,"p":73.98,"e":"PACF","k":"trade"},{"t":89.6,"p":73.98,"e":"PACF","k":"trade"},{"t":90.3,"p":73.98,"e":"PACF","k":"trade"},{"t":90.7,"p":73.98,"e":"PACF","k":"trade"},{"t":92.4,"p":73.98,"e":"PACF","k":"trade"},{"t":92.9,"p":73.98,"e":"PACF","k":"trade"},{"t":94.4,"p":73.98,"e":"PACF","k":"trade"},{"t":95.1,"p":73.98,"e":"PACF","k":"trade"},{"t":96.6,"p":73.98,"e":"PACF","k":"trade"},{"t":97.6,"p":73.98,"e":"PACF","k":"trade"},{"t":80.1,"p":73.98,"e":"PACF","k":"ask"},{"t":81.9,"p":73.98,"e":"PACF","k":"ask"},{"t":83.4,"p":73.98,"e":"PACF","k":"ask"},{"t":91.4,"p":73.98,"e":"PACF","k":"ask"},{"t":99.5,"p":73.98,"e":"PACF","k":"ask"},{"t":80.3,"p":73.97,"e":"PACF","k":"ask"},{"t":84.1,"p":73.97,"e":"PACF","k":"ask"},{"t":84.8,"p":73.97,"e":"PACF","k":"ask"},{"t":87.9,"p":73.97,"e":"PACF","k":"ask"},{"t":89.1,"p":73.97,"e":"PACF","k":"ask"},{"t":90.3,"p":73.97,"e":"PACF","k":"ask"},{"t":92.9,"p":73.97,"e":"PACF","k":"ask"},{"t":94.8,"p":73.97,"e":"PACF","k":"ask"},{"t":96.9,"p":73.97,"e":"PACF","k":"ask"},{"t":98.9,"p":73.97,"e":"PACF","k":"ask"},{"t":103.4,"p":73.97,"e":"PACF","k":"ask"},{"t":79.9,"p":73.96,"e":"PACF","k":"ask"},{"t":81.8,"p":73.96,"e":"PACF","k":"ask"},{"t":84.1,"p":73.96,"e":"PACF","k":"ask"},{"t":85.8,"p":73.96,"e":"PACF","k":"ask"},{"t":94.4,"p":73.96,"e":"PACF","k":"ask"},{"t":84.9,"p":73.96,"e":"PACF","k":"trade"},{"t":87.9,"p":73.96,"e":"PACF","k":"trade"},{"t":90.1,"p":73.96,"e":"PACF","k":"trade"},{"t":90.9,"p":73.96,"e":"PACF","k":"trade"},{"t":88.1,"p":73.95,"e":"PACF","k":"ask"},{"t":95.1,"p":73.95,"e":"PACF","k":"ask"},{"t":99.2,"p":73.95,"e":"PACF","k":"ask"},{"t":96.7,"p":73.95,"e":"PACF","k":"ask"},{"t":84.8,"p":73.95,"e":"PACF","k":"trade"},{"t":91.5,"p":73.95,"e":"PACF","k":"trade"},{"t":79.3,"p":73.94,"e":"PACF","k":"ask"},{"t":81.9,"p":73.94,"e":"PACF","k":"trade"},{"t":84,"p":73.94,"e":"PACF","k":"trade"},{"t":84.3,"p":73.94,"e":"PACF","k":"bid"},{"t":97.5,"p":73.94,"e":"PACF","k":"bid"},{"t":83.9,"p":73.93,"e":"PACF","k":"ask"},{"t":98.4,"p":73.93,"e":"PACF","k":"ask"},{"t":97.7,"p":73.93,"e":"PACF","k":"bid"},{"t":100.1,"p":73.93,"e":"PACF","k":"bid"},{"t":100.9,"p":73.93,"e":"PACF","k":"trade"},{"t":85.9,"p":73.92,"e":"PACF","k":"ask"},{"t":89.1,"p":73.92,"e":"PACF","k":"ask"},{"t":80.9,"p":73.92,"e":"PACF","k":"trade"},{"t":100.4,"p":73.91,"e":"PACF","k":"bid"},{"t":97.7,"p":73.91,"e":"PACF","k":"ask"},{"t":83.4,"p":73.9,"e":"PACF","k":"ask"},{"t":85.4,"p":73.9,"e":"PACF","k":"ask"},{"t":100.9,"p":73.9,"e":"PACF","k":"bid"},{"t":83.3,"p":73.89,"e":"PACF","k":"bid"},{"t":89.1,"p":73.89,"e":"PACF","k":"bid"},{"t":93.3,"p":73.89,"e":"PACF","k":"bid"},{"t":99.8,"p":73.89,"e":"PACF","k":"bid"},{"t":100.3,"p":73.89,"e":"PACF","k":"bid"},{"t":85.4,"p":73.88,"e":"PACF","k":"ask"},{"t":91.3,"p":73.88,"e":"PACF","k":"ask"},{"t":102.7,"p":73.88,"e":"PACF","k":"ask"},{"t":89.1,"p":73.88,"e":"PACF","k":"bid"},{"t":90.9,"p":73.88,"e":"PACF","k":"bid"},{"t":92.6,"p":73.88,"e":"PACF","k":"bid"},{"t":97.6,"p":73.88,"e":"PACF","k":"bid"},{"t":98.1,"p":73.88,"e":"PACF","k":"bid"},{"t":98.5,"p":73.88,"e":"PACF","k":"bid"},{"t":92.9,"p":73.87,"e":"PACF","k":"bid"},{"t":94.5,"p":73.87,"e":"PACF","k":"bid"},{"t":98.3,"p":73.87,"e":"PACF","k":"bid"},{"t":83.9,"p":73.87,"e":"PACF","k":"ask"},{"t":85.7,"p":73.87,"e":"PACF","k":"ask"},{"t":88.1,"p":73.87,"e":"PACF","k":"ask"},{"t":80.8,"p":73.87,"e":"PACF","k":"trade"},{"t":97.8,"p":73.86,"e":"PACF","k":"bid"},{"t":98.3,"p":73.86,"e":"PACF","k":"bid"},{"t":98.7,"p":73.86,"e":"PACF","k":"bid"},{"t":100.8,"p":73.86,"e":"PACF","k":"bid"},{"t":101.3,"p":73.86,"e":"PACF","k":"bid"},{"t":101.8,"p":73.86,"e":"PACF","k":"bid"},{"t":86.4,"p":73.86,"e":"PACF","k":"ask"},{"t":102.8,"p":73.86,"e":"PACF","k":"trade"},{"t":99.8,"p":73.85,"e":"PACF","k":"bid"},{"t":101,"p":73.85,"e":"PACF","k":"bid"},{"t":84.9,"p":73.84,"e":"PACF","k":"bid"},{"t":90.5,"p":73.84,"e":"PACF","k":"bid"},{"t":94.9,"p":73.84,"e":"PACF","k":"bid"},{"t":96.7,"p":73.84,"e":"PACF","k":"bid"},{"t":98.9,"p":73.84,"e":"PACF","k":"bid"},{"t":99.6,"p":73.84,"e":"PACF","k":"bid"},{"t":101.2,"p":73.84,"e":"PACF","k":"bid"},{"t":86.4,"p":73.84,"e":"PACF","k":"ask"},{"t":84.6,"p":73.83,"e":"PACF","k":"bid"},{"t":85.8,"p":73.83,"e":"PACF","k":"bid"},{"t":90.9,"p":73.83,"e":"PACF","k":"bid"},{"t":94.6,"p":73.83,"e":"PACF","k":"bid"},{"t":95.3,"p":73.83,"e":"PACF","k":"bid"},{"t":100.3,"p":73.83,"e":"PACF","k":"bid"},{"t":101.1,"p":73.83,"e":"PACF","k":"bid"},{"t":83.4,"p":73.82,"e":"PACF","k":"bid"},{"t":84.1,"p":73.82,"e":"PACF","k":"bid"},{"t":84.9,"p":73.82,"e":"PACF","k":"bid"},{"t":87.8,"p":73.82,"e":"PACF","k":"bid"},{"t":90.3,"p":73.82,"e":"PACF","k":"bid"},{"t":100.9,"p":73.82,"e":"PACF","k":"trade"},{"t":83.6,"p":73.81,"e":"PACF","k":"bid"},{"t":84.4,"p":73.81,"e":"PACF","k":"bid"},{"t":88,"p":73.81,"e":"PACF","k":"bid"},{"t":91.6,"p":73.81,"e":"PACF","k":"bid"},{"t":97.3,"p":73.81,"e":"PACF","k":"bid"},{"t":97.9,"p":73.81,"e":"PACF","k":"bid"},{"t":84.1,"p":73.8,"e":"PACF","k":"bid"},{"t":84.9,"p":73.8,"e":"PACF","k":"bid"},{"t":86,"p":73.8,"e":"PACF","k":"bid"},{"t":97.7,"p":73.8,"e":"PACF","k":"bid"},{"t":99.6,"p":73.8,"e":"PACF","k":"bid"},{"t":85.6,"p":73.79,"e":"PACF","k":"bid"},{"t":98.5,"p":73.79,"e":"PACF","k":"bid"},{"t":86.3,"p":73.79,"e":"PACF","k":"trade"},{"t":86.1,"p":73.78,"e":"PACF","k":"trade"},{"t":88.1,"p":73.78,"e":"PACF","k":"bid"},{"t":82.7,"p":73.78,"e":"PACF","k":"ask"},{"t":83.8,"p":73.76,"e":"PACF","k":"bid"},{"t":86.3,"p":73.76,"e":"PACF","k":"bid"},{"t":87.8,"p":73.76,"e":"PACF","k":"bid"},{"t":85.8,"p":73.75,"e":"PACF","k":"bid"},{"t":87.9,"p":73.75,"e":"PACF","k":"bid"},{"t":80.9,"p":73.74,"e":"PACF","k":"bid"},{"t":86.3,"p":73.74,"e":"PACF","k":"bid"},{"t":87.6,"p":73.74,"e":"PACF","k":"bid"},{"t":103.4,"p":73.74,"e":"PACF","k":"bid"},{"t":85.5,"p":73.73,"e":"PACF","k":"bid"},{"t":86.9,"p":73.73,"e":"PACF","k":"bid"},{"t":86.4,"p":73.73,"e":"PACF","k":"trade"},{"t":80.8,"p":73.72,"e":"PACF","k":"bid"},{"t":81.2,"p":73.69,"e":"PACF","k":"bid"},{"t":86.5,"p":73.68,"e":"PACF","k":"bid"},{"t":99,"p":74.08,"e":"PACF","k":"ask"},{"t":101.4,"p":74.08,"e":"PACF","k":"ask"},{"t":99.8,"p":74.08,"e":"PACF","k":"trade"},{"t":100.3,"p":74.08,"e":"PACF","k":"trade"},{"t":100.8,"p":74.08,"e":"PACF","k":"trade"},{"t":99.1,"p":74.07,"e":"PACF","k":"ask"},{"t":99.9,"p":74.07,"e":"PACF","k":"ask"},{"t":100.3,"p":74.07,"e":"PACF","k":"trade"},{"t":98.3,"p":74.06,"e":"PACF","k":"ask"},{"t":100.1,"p":74.06,"e":"PACF","k":"ask"},{"t":101.5,"p":74.06,"e":"PACF","k":"bid"},{"t":98.1,"p":74.05,"e":"PACF","k":"ask"},{"t":99.6,"p":74.05,"e":"PACF","k":"ask"},{"t":100.9,"p":74.05,"e":"PACF","k":"ask"},{"t":101.8,"p":74.05,"e":"PACF","k":"ask"},{"t":99.3,"p":74.04,"e":"PACF","k":"ask"},{"t":101,"p":74.04,"e":"PACF","k":"ask"},{"t":99.5,"p":74.03,"e":"PACF","k":"trade"},{"t":101.2,"p":74.03,"e":"PACF","k":"ask"},{"t":97.9,"p":74.02,"e":"PACF","k":"ask"},{"t":101.2,"p":74.02,"e":"PACF","k":"ask"},{"t":99.7,"p":74.02,"e":"PACF","k":"trade"},{"t":99.3,"p":74.01,"e":"PACF","k":"ask"},{"t":101.6,"p":74.01,"e":"PACF","k":"bid"},{"t":101.2,"p":74,"e":"PACF","k":"ask"},{"t":99.3,"p":73.99,"e":"PACF","k":"trade"},{"t":101.5,"p":73.99,"e":"PACF","k":"trade"},
{"t":-1.6,"p":74,"e":"BOST","k":"box"},{"t":17.4,"p":74,"e":"BOST","k":"box"},{"t":18.5,"p":74,"e":"BOST","k":"box"},{"t":19.3,"p":74,"e":"BOST","k":"box"},{"t":20.1,"p":74,"e":"BOST","k":"box"},{"t":17.9,"p":73.99,"e":"BOST","k":"box"},{"t":20.1,"p":73.98,"e":"BOST","k":"box"},{"t":16.2,"p":73.98,"e":"BOST","k":"box"},{"t":16.1,"p":73.97,"e":"BOST","k":"box"},{"t":4.8,"p":73.91,"e":"BOST","k":"box"},{"t":-1.6,"p":73.85,"e":"BOST","k":"box"},{"t":10.9,"p":73.84,"e":"BOST","k":"box"},{"t":10.5,"p":73.83,"e":"BOST","k":"box"},{"t":20.3,"p":73.84,"e":"BOST","k":"box"},{"t":19.4,"p":73.85,"e":"BOST","k":"box"},{"t":19.6,"p":73.82,"e":"BOST","k":"box"},{"t":22.6,"p":74,"e":"BOST","k":"box"},{"t":24,"p":74,"e":"BOST","k":"box"},{"t":34.5,"p":73.98,"e":"BOST","k":"box"},{"t":32.8,"p":73.98,"e":"BOST","k":"box"},{"t":23.8,"p":73.98,"e":"BOST","k":"box"},{"t":25.6,"p":73.98,"e":"BOST","k":"box"},{"t":24,"p":73.97,"e":"BOST","k":"box"},{"t":34.7,"p":73.97,"e":"BOST","k":"box"},{"t":39.5,"p":73.97,"e":"BOST","k":"box"},{"t":25.3,"p":73.96,"e":"BOST","k":"box"},{"t":25.9,"p":73.96,"e":"BOST","k":"box"},{"t":25.3,"p":73.95,"e":"BOST","k":"box"},{"t":25.3,"p":73.94,"e":"BOST","k":"box"},{"t":23.3,"p":73.9,"e":"BOST","k":"box"},{"t":25.9,"p":73.83,"e":"BOST","k":"box"},{"t":25.9,"p":73.81,"e":"BOST","k":"box"},{"t":36,"p":73.84,"e":"BOST","k":"box"},{"t":43.6,"p":73.84,"e":"BOST","k":"box"},{"t":44,"p":73.84,"e":"BOST","k":"box"},{"t":46.1,"p":73.84,"e":"BOST","k":"box"},{"t":47.9,"p":73.84,"e":"BOST","k":"box"},{"t":44,"p":73.82,"e":"BOST","k":"box"},{"t":46.1,"p":73.82,"e":"BOST","k":"box"},{"t":39.9,"p":73.8,"e":"BOST","k":"box"},{"t":41,"p":73.79,"e":"BOST","k":"box"},{"t":29.9,"p":73.71,"e":"BOST","k":"box"},{"t":42.9,"p":74,"e":"BOST","k":"box"},{"t":43.4,"p":74,"e":"BOST","k":"box"},{"t":45.3,"p":74,"e":"BOST","k":"box"},{"t":45.8,"p":74,"e":"BOST","k":"box"},{"t":47.1,"p":74.01,"e":"BOST","k":"box"},{"t":46.4,"p":73.98,"e":"BOST","k":"box"},{"t":51.4,"p":74.19,"e":"BOST","k":"box"},{"t":49.9,"p":74.17,"e":"BOST","k":"box"},{"t":50.4,"p":74.17,"e":"BOST","k":"box"},{"t":49.9,"p":74.15,"e":"BOST","k":"box"},{"t":51,"p":74.15,"e":"BOST","k":"box"},{"t":51,"p":74.14,"e":"BOST","k":"box"},{"t":52.1,"p":74.02,"e":"BOST","k":"box"},{"t":53.9,"p":74.01,"e":"BOST","k":"box"},{"t":51,"p":74,"e":"BOST","k":"box"},{"t":50.8,"p":74.01,"e":"BOST","k":"box"},{"t":55.6,"p":74,"e":"BOST","k":"box"},{"t":55.8,"p":74.03,"e":"BOST","k":"box"},{"t":47,"p":74.01,"e":"BOST","k":"box"},{"t":59.4,"p":73.94,"e":"BOST","k":"box"},{"t":60.7,"p":73.95,"e":"BOST","k":"box"},{"t":59.8,"p":73.93,"e":"BOST","k":"box"},{"t":60.1,"p":73.87,"e":"BOST","k":"box"},{"t":60.3,"p":73.82,"e":"BOST","k":"box"},{"t":63.7,"p":73.81,"e":"BOST","k":"box"},{"t":60.7,"p":73.78,"e":"BOST","k":"box"},{"t":63.7,"p":73.78,"e":"BOST","k":"box"},{"t":69.4,"p":73.79,"e":"BOST","k":"box"},{"t":69.9,"p":73.72,"e":"BOST","k":"box"},{"t":70.6,"p":73.72,"e":"BOST","k":"box"},{"t":69.4,"p":73.61,"e":"BOST","k":"box"},{"t":72.7,"p":73.61,"e":"BOST","k":"box"},{"t":69.7,"p":73.58,"e":"BOST","k":"box"},{"t":73,"p":73.58,"e":"BOST","k":"box"},{"t":74.9,"p":73.57,"e":"BOST","k":"box"},{"t":77,"p":73.73,"e":"BOST","k":"box"},{"t":78.1,"p":73.74,"e":"BOST","k":"box"},{"t":78.3,"p":73.72,"e":"BOST","k":"box"},{"t":77.9,"p":73.77,"e":"BOST","k":"box"},{"t":77.6,"p":73.76,"e":"BOST","k":"box"},{"t":78.4,"p":73.84,"e":"BOST","k":"box"},{"t":79,"p":73.94,"e":"BOST","k":"box"},{"t":80.9,"p":73.94,"e":"BOST","k":"box"},{"t":80.1,"p":73.92,"e":"BOST","k":"box"},{"t":81.1,"p":73.9,"e":"BOST","k":"box"},{"t":89.1,"p":73.94,"e":"BOST","k":"box"},{"t":89,"p":73.93,"e":"BOST","k":"box"},{"t":97.8,"p":74.02,"e":"BOST","k":"box"},{"t":103.4,"p":73.99,"e":"BOST","k":"box"},{"t":103.4,"p":73.96,"e":"BOST","k":"box"},{"t":84.8,"p":73.85,"e":"BOST","k":"box"},{"t":95,"p":73.82,"e":"BOST","k":"box"},{"t":99.3,"p":73.82,"e":"BOST","k":"box"},{"t":99.7,"p":73.82,"e":"BOST","k":"box"},{"t":81.5,"p":73.8,"e":"BOST","k":"box"},{"t":83.7,"p":73.79,"e":"BOST","k":"box"},{"t":80.4,"p":73.77,"e":"BOST","k":"box"},{"t":81,"p":73.75,"e":"BOST","k":"box"},{"t":81.9,"p":73.75,"e":"BOST","k":"box"},{"t":84.4,"p":73.73,"e":"BOST","k":"box"},{"t":87.7,"p":73.73,"e":"BOST","k":"box"},{"t":80.9,"p":73.73,"e":"BOST","k":"box"},{"t":78.4,"p":73.72,"e":"BOST","k":"box"},{"t":80.6,"p":73.71,"e":"BOST","k":"box"},{"t":81.4,"p":73.7,"e":"BOST","k":"box"},{"t":80.4,"p":73.69,"e":"BOST","k":"box"},{"t":81.2,"p":73.64,"e":"BOST","k":"box"},
{"t":0.2,"p":73.99,"e":"BATS","k":"dia"},{"t":2.5,"p":73.98,"e":"BATS","k":"dia"},{"t":9.5,"p":73.99,"e":"BATS","k":"dia"},{"t":10.3,"p":73.98,"e":"BATS","k":"dia"},{"t":11,"p":73.98,"e":"BATS","k":"dia"},{"t":13,"p":73.98,"e":"BATS","k":"dia"},{"t":13.1,"p":73.97,"e":"BATS","k":"dia"},{"t":15.6,"p":73.97,"e":"BATS","k":"dia"},{"t":15.5,"p":73.96,"e":"BATS","k":"dia"},{"t":16.2,"p":73.96,"e":"BATS","k":"dia"},{"t":17.9,"p":73.98,"e":"BATS","k":"dia"},{"t":17.8,"p":73.94,"e":"BATS","k":"dia"},{"t":20,"p":73.97,"e":"BATS","k":"dia"},{"t":20.3,"p":73.97,"e":"BATS","k":"dia"},{"t":13,"p":73.93,"e":"BATS","k":"dia"},{"t":12,"p":73.92,"e":"BATS","k":"dia"},{"t":21.9,"p":73.91,"e":"BATS","k":"dia"},{"t":19.9,"p":73.9,"e":"BATS","k":"dia"},{"t":15.6,"p":73.89,"e":"BATS","k":"dia"},{"t":20.2,"p":73.88,"e":"BATS","k":"dia"},{"t":12,"p":73.87,"e":"BATS","k":"dia"},{"t":17.6,"p":73.87,"e":"BATS","k":"dia"},{"t":12,"p":73.86,"e":"BATS","k":"dia"},{"t":17.7,"p":73.86,"e":"BATS","k":"dia"},{"t":8.8,"p":73.86,"e":"BATS","k":"dia"},{"t":21.6,"p":73.86,"e":"BATS","k":"dia"},{"t":21.9,"p":73.86,"e":"BATS","k":"dia"},{"t":8.8,"p":73.85,"e":"BATS","k":"dia"},{"t":9.7,"p":73.85,"e":"BATS","k":"dia"},{"t":13,"p":73.85,"e":"BATS","k":"dia"},{"t":19.8,"p":73.85,"e":"BATS","k":"dia"},{"t":19.8,"p":73.84,"e":"BATS","k":"dia"},{"t":12,"p":73.84,"e":"BATS","k":"dia"},{"t":14.6,"p":73.83,"e":"BATS","k":"dia"},{"t":16.4,"p":73.83,"e":"BATS","k":"dia"},{"t":17.9,"p":73.83,"e":"BATS","k":"dia"},{"t":20,"p":73.83,"e":"BATS","k":"dia"},{"t":21.9,"p":73.83,"e":"BATS","k":"dia"},{"t":21.9,"p":73.82,"e":"BATS","k":"dia"},{"t":21.9,"p":73.81,"e":"BATS","k":"dia"},{"t":32.9,"p":73.99,"e":"BATS","k":"dia"},{"t":36.6,"p":73.99,"e":"BATS","k":"dia"},{"t":44.8,"p":73.99,"e":"BATS","k":"dia"},{"t":45.3,"p":73.99,"e":"BATS","k":"dia"},{"t":45.9,"p":73.99,"e":"BATS","k":"dia"},{"t":47.5,"p":73.99,"e":"BATS","k":"dia"},{"t":48.3,"p":73.99,"e":"BATS","k":"dia"},{"t":44.8,"p":73.98,"e":"BATS","k":"dia"},{"t":45.3,"p":73.98,"e":"BATS","k":"dia"},{"t":41.3,"p":73.98,"e":"BATS","k":"dia"},{"t":24.9,"p":73.97,"e":"BATS","k":"dia"},{"t":25.8,"p":73.97,"e":"BATS","k":"dia"},{"t":35.7,"p":73.97,"e":"BATS","k":"dia"},{"t":38.9,"p":73.97,"e":"BATS","k":"dia"},{"t":46.2,"p":73.97,"e":"BATS","k":"dia"},{"t":47.5,"p":73.97,"e":"BATS","k":"dia"},{"t":30.3,"p":73.96,"e":"BATS","k":"dia"},{"t":31.5,"p":73.96,"e":"BATS","k":"dia"},{"t":38,"p":73.96,"e":"BATS","k":"dia"},{"t":44.8,"p":73.96,"e":"BATS","k":"dia"},{"t":46.2,"p":73.96,"e":"BATS","k":"dia"},{"t":40.9,"p":73.96,"e":"BATS","k":"dia"},{"t":40.7,"p":73.96,"e":"BATS","k":"dia"},{"t":23.7,"p":73.95,"e":"BATS","k":"dia"},{"t":34.5,"p":73.95,"e":"BATS","k":"dia"},{"t":43.5,"p":73.95,"e":"BATS","k":"dia"},{"t":44.6,"p":73.95,"e":"BATS","k":"dia"},{"t":40.9,"p":73.95,"e":"BATS","k":"dia"},{"t":41,"p":73.94,"e":"BATS","k":"dia"},{"t":31.5,"p":73.93,"e":"BATS","k":"dia"},{"t":36.6,"p":73.93,"e":"BATS","k":"dia"},{"t":43.1,"p":73.93,"e":"BATS","k":"dia"},{"t":46.1,"p":73.93,"e":"BATS","k":"dia"},{"t":23.1,"p":73.93,"e":"BATS","k":"dia"},{"t":23.7,"p":73.93,"e":"BATS","k":"dia"},{"t":23.3,"p":73.92,"e":"BATS","k":"dia"},{"t":35.6,"p":73.92,"e":"BATS","k":"dia"},{"t":42.5,"p":73.92,"e":"BATS","k":"dia"},{"t":21.9,"p":73.91,"e":"BATS","k":"dia"},{"t":24.9,"p":73.91,"e":"BATS","k":"dia"},{"t":30.9,"p":73.91,"e":"BATS","k":"dia"},{"t":31.1,"p":73.9,"e":"BATS","k":"dia"},{"t":46.4,"p":73.9,"e":"BATS","k":"dia"},{"t":25.8,"p":73.89,"e":"BATS","k":"dia"},{"t":32.9,"p":73.89,"e":"BATS","k":"dia"},{"t":44.8,"p":73.89,"e":"BATS","k":"dia"},{"t":48.3,"p":73.89,"e":"BATS","k":"dia"},{"t":41,"p":73.88,"e":"BATS","k":"dia"},{"t":46.3,"p":73.88,"e":"BATS","k":"dia"},{"t":32.7,"p":73.87,"e":"BATS","k":"dia"},{"t":34.3,"p":73.87,"e":"BATS","k":"dia"},{"t":37.6,"p":73.87,"e":"BATS","k":"dia"},{"t":26.1,"p":73.86,"e":"BATS","k":"dia"},{"t":23.1,"p":73.86,"e":"BATS","k":"dia"},{"t":35.5,"p":73.86,"e":"BATS","k":"dia"},{"t":36,"p":73.86,"e":"BATS","k":"dia"},{"t":43.2,"p":73.86,"e":"BATS","k":"dia"},{"t":22.9,"p":73.85,"e":"BATS","k":"dia"},{"t":38.9,"p":73.85,"e":"BATS","k":"dia"},{"t":42.9,"p":73.85,"e":"BATS","k":"dia"},{"t":43.6,"p":73.85,"e":"BATS","k":"dia"},{"t":24.3,"p":73.84,"e":"BATS","k":"dia"},{"t":25.5,"p":73.84,"e":"BATS","k":"dia"},{"t":30.5,"p":73.84,"e":"BATS","k":"dia"},{"t":36.4,"p":73.84,"e":"BATS","k":"dia"},{"t":46.3,"p":73.84,"e":"BATS","k":"dia"},{"t":30.9,"p":73.83,"e":"BATS","k":"dia"},{"t":31.3,"p":73.83,"e":"BATS","k":"dia"},{"t":43.7,"p":73.83,"e":"BATS","k":"dia"},{"t":44.1,"p":73.83,"e":"BATS","k":"dia"},{"t":44.8,"p":73.83,"e":"BATS","k":"dia"},{"t":47.5,"p":73.83,"e":"BATS","k":"dia"},{"t":25.3,"p":73.82,"e":"BATS","k":"dia"},{"t":26.8,"p":73.82,"e":"BATS","k":"dia"},{"t":30.9,"p":73.82,"e":"BATS","k":"dia"},{"t":34.1,"p":73.82,"e":"BATS","k":"dia"},{"t":43.4,"p":73.82,"e":"BATS","k":"dia"},{"t":46.7,"p":73.82,"e":"BATS","k":"dia"},{"t":24,"p":73.81,"e":"BATS","k":"dia"},{"t":25.2,"p":73.81,"e":"BATS","k":"dia"},{"t":36.6,"p":73.81,"e":"BATS","k":"dia"},{"t":42.5,"p":73.81,"e":"BATS","k":"dia"},{"t":44.8,"p":73.81,"e":"BATS","k":"dia"},{"t":46,"p":73.81,"e":"BATS","k":"dia"},{"t":48.3,"p":73.81,"e":"BATS","k":"dia"},{"t":24.3,"p":73.8,"e":"BATS","k":"dia"},{"t":25.3,"p":73.8,"e":"BATS","k":"dia"},{"t":33.3,"p":73.8,"e":"BATS","k":"dia"},{"t":35.6,"p":73.8,"e":"BATS","k":"dia"},{"t":38.9,"p":73.8,"e":"BATS","k":"dia"},{"t":46.5,"p":73.8,"e":"BATS","k":"dia"},{"t":23.8,"p":73.79,"e":"BATS","k":"dia"},{"t":31.5,"p":73.79,"e":"BATS","k":"dia"},{"t":36.3,"p":73.79,"e":"BATS","k":"dia"},{"t":38.9,"p":73.78,"e":"BATS","k":"dia"},{"t":30.8,"p":73.76,"e":"BATS","k":"dia"},{"t":25.3,"p":73.75,"e":"BATS","k":"dia"},{"t":25.7,"p":73.75,"e":"BATS","k":"dia"},{"t":32.7,"p":73.75,"e":"BATS","k":"dia"},{"t":24.5,"p":73.74,"e":"BATS","k":"dia"},{"t":30.1,"p":73.74,"e":"BATS","k":"dia"},{"t":25.7,"p":73.73,"e":"BATS","k":"dia"},{"t":30.3,"p":73.73,"e":"BATS","k":"dia"},{"t":30.5,"p":73.71,"e":"BATS","k":"dia"},{"t":56.4,"p":74.2,"e":"BATS","k":"dia"},{"t":55.9,"p":74.19,"e":"BATS","k":"dia"},{"t":51.6,"p":74.18,"e":"BATS","k":"dia"},{"t":54.3,"p":74.18,"e":"BATS","k":"dia"},{"t":55.1,"p":74.17,"e":"BATS","k":"dia"},{"t":49.4,"p":74.17,"e":"BATS","k":"dia"},{"t":52.1,"p":74.16,"e":"BATS","k":"dia"},{"t":54.2,"p":74.16,"e":"BATS","k":"dia"},{"t":52.1,"p":74.15,"e":"BATS","k":"dia"},{"t":54.2,"p":74.15,"e":"BATS","k":"dia"},{"t":51.6,"p":74.12,"e":"BATS","k":"dia"},{"t":53.4,"p":74.11,"e":"BATS","k":"dia"},{"t":56,"p":74.11,"e":"BATS","k":"dia"},{"t":54.2,"p":74.09,"e":"BATS","k":"dia"},{"t":49.7,"p":74.08,"e":"BATS","k":"dia"},{"t":49.8,"p":74.07,"e":"BATS","k":"dia"},{"t":54.2,"p":74.07,"e":"BATS","k":"dia"},{"t":59.8,"p":74.06,"e":"BATS","k":"dia"},{"t":60.6,"p":74.06,"e":"BATS","k":"dia"},{"t":59.9,"p":74.05,"e":"BATS","k":"dia"},{"t":60.3,"p":74.05,"e":"BATS","k":"dia"},{"t":51.6,"p":74.05,"e":"BATS","k":"dia"},{"t":49.9,"p":74.04,"e":"BATS","k":"dia"},{"t":50.9,"p":74.04,"e":"BATS","k":"dia"},{"t":51.4,"p":74.04,"e":"BATS","k":"dia"},{"t":52,"p":74.04,"e":"BATS","k":"dia"},{"t":51.4,"p":74.03,"e":"BATS","k":"dia"},{"t":52.1,"p":74.03,"e":"BATS","k":"dia"},{"t":54.3,"p":74.03,"e":"BATS","k":"dia"},{"t":56,"p":74.03,"e":"BATS","k":"dia"},{"t":60,"p":74.03,"e":"BATS","k":"dia"},{"t":54,"p":74.02,"e":"BATS","k":"dia"},{"t":55.9,"p":74.02,"e":"BATS","k":"dia"},{"t":60.2,"p":74.02,"e":"BATS","k":"dia"},{"t":49.9,"p":74.01,"e":"BATS","k":"dia"},{"t":51,"p":74.01,"e":"BATS","k":"dia"},{"t":54.3,"p":74.01,"e":"BATS","k":"dia"},{"t":49.2,"p":74.01,"e":"BATS","k":"dia"},{"t":54.1,"p":74,"e":"BATS","k":"dia"},{"t":55.8,"p":74,"e":"BATS","k":"dia"},{"t":59.8,"p":74,"e":"BATS","k":"dia"},{"t":59.9,"p":73.99,"e":"BATS","k":"dia"},{"t":47.5,"p":73.99,"e":"BATS","k":"dia"},{"t":48.3,"p":73.99,"e":"BATS","k":"dia"},{"t":59.8,"p":73.97,"e":"BATS","k":"dia"},{"t":61.1,"p":73.97,"e":"BATS","k":"dia"},{"t":46.1,"p":73.97,"e":"BATS","k":"dia"},{"t":47.5,"p":73.97,"e":"BATS","k":"dia"},{"t":46.3,"p":73.96,"e":"BATS","k":"dia"},{"t":47.5,"p":73.95,"e":"BATS","k":"dia"},{"t":59.9,"p":73.95,"e":"BATS","k":"dia"},{"t":61,"p":73.95,"e":"BATS","k":"dia"},{"t":59.9,"p":73.93,"e":"BATS","k":"dia"},{"t":59.9,"p":73.92,"e":"BATS","k":"dia"},{"t":60.9,"p":73.92,"e":"BATS","k":"dia"},{"t":60,"p":73.91,"e":"BATS","k":"dia"},{"t":62.6,"p":73.9,"e":"BATS","k":"dia"},{"t":64.1,"p":73.87,"e":"BATS","k":"dia"},{"t":64.7,"p":73.87,"e":"BATS","k":"dia"},{"t":62.5,"p":73.86,"e":"BATS","k":"dia"},{"t":64.4,"p":73.86,"e":"BATS","k":"dia"},{"t":62.4,"p":73.85,"e":"BATS","k":"dia"},{"t":62.3,"p":73.83,"e":"BATS","k":"dia"},{"t":62.5,"p":73.82,"e":"BATS","k":"dia"},{"t":60.5,"p":73.8,"e":"BATS","k":"dia"},{"t":63.7,"p":73.79,"e":"BATS","k":"dia"},{"t":60.3,"p":73.78,"e":"BATS","k":"dia"},{"t":65,"p":73.77,"e":"BATS","k":"dia"},{"t":63.8,"p":73.75,"e":"BATS","k":"dia"},{"t":65.4,"p":73.73,"e":"BATS","k":"dia"},{"t":67.3,"p":73.74,"e":"BATS","k":"dia"},{"t":70.4,"p":73.73,"e":"BATS","k":"dia"},{"t":64.4,"p":73.7,"e":"BATS","k":"dia"},{"t":68.7,"p":73.7,"e":"BATS","k":"dia"},{"t":70.5,"p":73.7,"e":"BATS","k":"dia"},{"t":72,"p":73.7,"e":"BATS","k":"dia"},{"t":71.3,"p":73.71,"e":"BATS","k":"dia"},{"t":72.1,"p":73.69,"e":"BATS","k":"dia"},{"t":71.9,"p":73.68,"e":"BATS","k":"dia"},{"t":74.3,"p":73.68,"e":"BATS","k":"dia"},{"t":74.5,"p":73.72,"e":"BATS","k":"dia"},{"t":74.7,"p":73.71,"e":"BATS","k":"dia"},{"t":74.8,"p":73.7,"e":"BATS","k":"dia"},{"t":75.5,"p":73.7,"e":"BATS","k":"dia"},{"t":76.4,"p":73.7,"e":"BATS","k":"dia"},{"t":76.1,"p":73.69,"e":"BATS","k":"dia"},{"t":75.8,"p":73.68,"e":"BATS","k":"dia"},{"t":75.6,"p":73.67,"e":"BATS","k":"dia"},{"t":76.1,"p":73.67,"e":"BATS","k":"dia"},{"t":74.5,"p":73.66,"e":"BATS","k":"dia"},{"t":75.8,"p":73.66,"e":"BATS","k":"dia"},{"t":69.8,"p":73.65,"e":"BATS","k":"dia"},{"t":71.6,"p":73.64,"e":"BATS","k":"dia"},{"t":69.6,"p":73.62,"e":"BATS","k":"dia"},{"t":71.8,"p":73.62,"e":"BATS","k":"dia"},{"t":66.8,"p":73.61,"e":"BATS","k":"dia"},{"t":71.4,"p":73.61,"e":"BATS","k":"dia"},{"t":71.8,"p":73.6,"e":"BATS","k":"dia"},{"t":75.3,"p":73.6,"e":"BATS","k":"dia"},{"t":69.9,"p":73.59,"e":"BATS","k":"dia"},{"t":72.8,"p":73.59,"e":"BATS","k":"dia"},{"t":73.9,"p":73.59,"e":"BATS","k":"dia"},{"t":75.3,"p":73.59,"e":"BATS","k":"dia"},{"t":66,"p":73.58,"e":"BATS","k":"dia"},{"t":66.8,"p":73.58,"e":"BATS","k":"dia"},{"t":70.4,"p":73.58,"e":"BATS","k":"dia"},{"t":71.3,"p":73.58,"e":"BATS","k":"dia"},{"t":74.5,"p":73.58,"e":"BATS","k":"dia"},{"t":69.8,"p":73.57,"e":"BATS","k":"dia"},{"t":75.5,"p":73.85,"e":"BATS","k":"dia"},{"t":76.2,"p":73.85,"e":"BATS","k":"dia"},{"t":76.2,"p":73.84,"e":"BATS","k":"dia"},{"t":75.8,"p":73.83,"e":"BATS","k":"dia"},{"t":75.9,"p":73.82,"e":"BATS","k":"dia"},{"t":76,"p":73.81,"e":"BATS","k":"dia"},{"t":78.9,"p":73.81,"e":"BATS","k":"dia"},{"t":75.6,"p":73.8,"e":"BATS","k":"dia"},{"t":75.6,"p":73.78,"e":"BATS","k":"dia"},{"t":77.5,"p":73.78,"e":"BATS","k":"dia"},{"t":77.4,"p":73.77,"e":"BATS","k":"dia"},{"t":79.3,"p":73.77,"e":"BATS","k":"dia"},{"t":75.8,"p":73.76,"e":"BATS","k":"dia"},{"t":77,"p":73.76,"e":"BATS","k":"dia"},{"t":77.4,"p":73.75,"e":"BATS","k":"dia"},{"t":78,"p":73.75,"e":"BATS","k":"dia"},{"t":76.5,"p":73.74,"e":"BATS","k":"dia"},{"t":78.4,"p":73.73,"e":"BATS","k":"dia"},{"t":78.8,"p":73.91,"e":"BATS","k":"dia"},{"t":69.2,"p":73.78,"e":"BATS","k":"dia"},{"t":69.1,"p":73.76,"e":"BATS","k":"dia"},{"t":69.1,"p":73.75,"e":"BATS","k":"dia"},{"t":91.9,"p":73.98,"e":"BATS","k":"dia"},{"t":91,"p":73.96,"e":"BATS","k":"dia"},{"t":88,"p":73.93,"e":"BATS","k":"dia"},{"t":87.8,"p":73.92,"e":"BATS","k":"dia"},{"t":95.7,"p":73.92,"e":"BATS","k":"dia"},{"t":96.6,"p":73.92,"e":"BATS","k":"dia"},{"t":78.8,"p":73.91,"e":"BATS","k":"dia"},{"t":87.3,"p":73.9,"e":"BATS","k":"dia"},{"t":87.8,"p":73.9,"e":"BATS","k":"dia"},{"t":96.1,"p":73.9,"e":"BATS","k":"dia"},{"t":87.7,"p":73.89,"e":"BATS","k":"dia"},{"t":81.8,"p":73.88,"e":"BATS","k":"dia"},{"t":103.4,"p":73.98,"e":"BATS","k":"dia"},{"t":88.1,"p":73.82,"e":"BATS","k":"dia"},{"t":88.7,"p":73.82,"e":"BATS","k":"dia"},{"t":90.4,"p":73.82,"e":"BATS","k":"dia"},{"t":78.8,"p":73.81,"e":"BATS","k":"dia"},{"t":80.4,"p":73.78,"e":"BATS","k":"dia"},{"t":79.4,"p":73.77,"e":"BATS","k":"dia"},{"t":89,"p":73.76,"e":"BATS","k":"dia"},{"t":89.6,"p":73.74,"e":"BATS","k":"dia"},{"t":78.4,"p":73.73,"e":"BATS","k":"dia"},{"t":88.8,"p":73.72,"e":"BATS","k":"dia"},{"t":83.2,"p":73.71,"e":"BATS","k":"dia"},{"t":81.2,"p":73.68,"e":"BATS","k":"dia"},{"t":103.3,"p":73.72,"e":"BATS","k":"dia"},{"t":80.9,"p":73.95,"e":"BATS","k":"dia"},{"t":92.3,"p":74.01,"e":"BATS","k":"dia"},
{"t":21.9,"p":73.94,"e":"BATY","k":"dia"},{"t":10.2,"p":73.82,"e":"BATY","k":"dia"},{"t":11.1,"p":73.83,"e":"BATY","k":"dia"},{"t":30.6,"p":73.97,"e":"BATY","k":"dia"},{"t":76.1,"p":73.87,"e":"BATY","k":"dia"},{"t":71.4,"p":73.63,"e":"BATY","k":"dia"},{"t":80.9,"p":73.96,"e":"BATY","k":"dia"},{"t":81.3,"p":73.88,"e":"BATY","k":"dia"},
{"t":50.8,"p":74.17,"e":"EDGE","k":"dia"},{"t":55.4,"p":74.19,"e":"EDGE","k":"dia"},{"t":60.7,"p":73.78,"e":"EDGE","k":"dia"},{"t":63.7,"p":73.78,"e":"EDGE","k":"dia"},{"t":85.8,"p":73.96,"e":"EDGE","k":"dia"},{"t":101,"p":73.81,"e":"EDGE","k":"dia"},
{"t":-2.8,"p":74,"e":"EDGX","k":"dia"},{"t":-0.6,"p":74,"e":"EDGX","k":"dia"},{"t":-0.2,"p":74,"e":"EDGX","k":"dia"},{"t":0.2,"p":74,"e":"EDGX","k":"dia"},{"t":6.9,"p":74,"e":"EDGX","k":"dia"},{"t":7.8,"p":74,"e":"EDGX","k":"dia"},{"t":8.3,"p":74,"e":"EDGX","k":"dia"},{"t":8.7,"p":74,"e":"EDGX","k":"dia"},{"t":11.3,"p":74,"e":"EDGX","k":"dia"},{"t":11.9,"p":74,"e":"EDGX","k":"dia"},{"t":11.3,"p":73.99,"e":"EDGX","k":"dia"},{"t":11.9,"p":73.99,"e":"EDGX","k":"dia"},{"t":17.6,"p":74,"e":"EDGX","k":"dia"},{"t":19.3,"p":73.99,"e":"EDGX","k":"dia"},{"t":19.7,"p":73.99,"e":"EDGX","k":"dia"},{"t":14.1,"p":73.97,"e":"EDGX","k":"dia"},{"t":14.5,"p":73.97,"e":"EDGX","k":"dia"},{"t":21.7,"p":73.96,"e":"EDGX","k":"dia"},{"t":2.6,"p":73.84,"e":"EDGX","k":"dia"},{"t":2.5,"p":73.83,"e":"EDGX","k":"dia"},{"t":15.3,"p":73.82,"e":"EDGX","k":"dia"},{"t":21.7,"p":73.82,"e":"EDGX","k":"dia"},{"t":22,"p":73.81,"e":"EDGX","k":"dia"},{"t":11.1,"p":73.84,"e":"EDGX","k":"dia"},{"t":10.6,"p":73.84,"e":"EDGX","k":"dia"},{"t":12,"p":73.83,"e":"EDGX","k":"dia"},{"t":13.1,"p":73.83,"e":"EDGX","k":"dia"},{"t":22.9,"p":74,"e":"EDGX","k":"dia"},{"t":25.2,"p":74,"e":"EDGX","k":"dia"},{"t":25.5,"p":74,"e":"EDGX","k":"dia"},{"t":27,"p":74,"e":"EDGX","k":"dia"},{"t":31.2,"p":74,"e":"EDGX","k":"dia"},{"t":32,"p":74,"e":"EDGX","k":"dia"},{"t":33.1,"p":74,"e":"EDGX","k":"dia"},{"t":34.4,"p":74,"e":"EDGX","k":"dia"},{"t":34.9,"p":74,"e":"EDGX","k":"dia"},{"t":35.8,"p":74,"e":"EDGX","k":"dia"},{"t":36.2,"p":74,"e":"EDGX","k":"dia"},{"t":36.9,"p":74,"e":"EDGX","k":"dia"},{"t":37.1,"p":74,"e":"EDGX","k":"dia"},{"t":38.4,"p":74,"e":"EDGX","k":"dia"},{"t":39.2,"p":74,"e":"EDGX","k":"dia"},{"t":41.5,"p":74,"e":"EDGX","k":"dia"},{"t":41.7,"p":74,"e":"EDGX","k":"dia"},{"t":44.3,"p":74,"e":"EDGX","k":"dia"},{"t":22.8,"p":73.99,"e":"EDGX","k":"dia"},{"t":24.3,"p":73.99,"e":"EDGX","k":"dia"},{"t":35.5,"p":73.99,"e":"EDGX","k":"dia"},{"t":38.4,"p":73.99,"e":"EDGX","k":"dia"},{"t":43.3,"p":73.99,"e":"EDGX","k":"dia"},{"t":43.8,"p":73.99,"e":"EDGX","k":"dia"},{"t":41.4,"p":73.97,"e":"EDGX","k":"dia"},{"t":25.2,"p":73.97,"e":"EDGX","k":"dia"},{"t":38,"p":73.85,"e":"EDGX","k":"dia"},{"t":75.4,"p":73.79,"e":"EDGX","k":"bid"},{"t":81.8,"p":73.96,"e":"EDGX","k":"dia"},{"t":83.4,"p":73.96,"e":"EDGX","k":"dia"},{"t":81.9,"p":73.95,"e":"EDGX","k":"dia"},{"t":83.4,"p":73.95,"e":"EDGX","k":"dia"}
],
"table":[
{"t":12.17,"p":73.6537,"a":"left","s":"100 millisecond, ISO"},{"t":12.17,"p":73.6426,"a":"left","s":"Exch"},{"t":12.17,"p":73.6314,"a":"left","s":"Totl"},{"t":12.17,"p":73.6203,"a":"left","s":"NQEX"},{"t":12.17,"p":73.6092,"a":"left","s":"NYSE"},{"t":12.17,"p":73.5981,"a":"left","s":"CBOE"},{"t":12.17,"p":73.587,"a":"left","s":"PACF"},{"t":12.17,"p":73.5759,"a":"left","s":"CINC"},{"t":12.17,"p":73.5647,"a":"left","s":"PHIL"},{"t":12.17,"p":73.5536,"a":"left","s":"BOST"},{"t":12.17,"p":73.5425,"a":"left","s":"BATS"},{"t":12.17,"p":73.5314,"a":"left","s":"BATY"},{"t":12.17,"p":73.5203,"a":"left","s":"EDGE"},{"t":12.17,"p":73.5092,"a":"left","s":"EDGX"},
{"t":19.9,"p":73.6426,"a":"right","s":"Quotes"},{"t":25.9,"p":73.6426,"a":"right","s":"Trades"},{"t":33.7,"p":73.6426,"a":"right","s":"Shares"},{"t":37.9,"p":73.6426,"a":"right","s":"Qt/Td"},{"t":41.5,"p":73.6426,"a":"right","s":"Sh/Td"},
{"t":20.5,"p":73.6314,"a":"right","s":"53,298"},{"t":26.6,"p":73.6314,"a":"right","s":"1,593"},{"t":34.3,"p":73.6314,"a":"right","s":"170,850"},{"t":37.9,"p":73.6314,"a":"right","s":"34"},{"t":41.5,"p":73.6314,"a":"right","s":"108"},
{"t":20.5,"p":73.6203,"a":"right","s":"3,357"},{"t":26.6,"p":73.6203,"a":"right","s":"196"},{"t":34.3,"p":73.6203,"a":"right","s":"24,800"},{"t":37.9,"p":73.6203,"a":"right","s":"17"},{"t":41.5,"p":73.6203,"a":"right","s":"127"},
{"t":20.5,"p":73.6092,"a":"right","s":"4,110"},{"t":26.6,"p":73.6092,"a":"right","s":"6"},{"t":34.3,"p":73.6092,"a":"right","s":"600"},{"t":37.9,"p":73.6092,"a":"right","s":"685"},{"t":41.5,"p":73.6092,"a":"right","s":"100"},
{"t":20.5,"p":73.5981,"a":"right","s":"482"},{"t":26.6,"p":73.5981,"a":"right","s":"0"},{"t":34.3,"p":73.5981,"a":"right","s":"0"},{"t":37.9,"p":73.5981,"a":"right","s":"482"},{"t":41.5,"p":73.5981,"a":"right","s":"0"},
{"t":20.5,"p":73.587,"a":"right","s":"3,577"},{"t":26.6,"p":73.587,"a":"right","s":"615"},{"t":34.3,"p":73.587,"a":"right","s":"67,200"},{"t":37.9,"p":73.587,"a":"right","s":"6"},{"t":41.5,"p":73.587,"a":"right","s":"109"},
{"t":20.5,"p":73.5759,"a":"right","s":"6"},{"t":26.6,"p":73.5759,"a":"right","s":"1"},{"t":34.3,"p":73.5759,"a":"right","s":"100"},{"t":37.9,"p":73.5759,"a":"right","s":"6"},{"t":41.5,"p":73.5759,"a":"right","s":"100"},
{"t":20.5,"p":73.5647,"a":"right","s":"1,451"},{"t":26.6,"p":73.5647,"a":"right","s":"0"},{"t":34.3,"p":73.5647,"a":"right","s":"0"},{"t":37.9,"p":73.5647,"a":"right","s":"1451"},{"t":41.5,"p":73.5647,"a":"right","s":"0"},
{"t":20.5,"p":73.5536,"a":"right","s":"12,601"},{"t":26.6,"p":73.5536,"a":"right","s":"129"},{"t":34.3,"p":73.5536,"a":"right","s":"13,050"},{"t":37.9,"p":73.5536,"a":"right","s":"98"},{"t":41.5,"p":73.5536,"a":"right","s":"101"},
{"t":20.5,"p":73.5425,"a":"right","s":"5,929"},{"t":26.6,"p":73.5425,"a":"right","s":"415"},{"t":34.3,"p":73.5425,"a":"right","s":"41,800"},{"t":37.9,"p":73.5425,"a":"right","s":"14"},{"t":41.5,"p":73.5425,"a":"right","s":"101"},
{"t":20.5,"p":73.5314,"a":"right","s":"11,898"},{"t":26.6,"p":73.5314,"a":"right","s":"18"},{"t":34.3,"p":73.5314,"a":"right","s":"1,900"},{"t":37.9,"p":73.5314,"a":"right","s":"661"},{"t":41.5,"p":73.5314,"a":"right","s":"106"},
{"t":20.5,"p":73.5203,"a":"right","s":"8,977"},{"t":26.6,"p":73.5203,"a":"right","s":"9"},{"t":34.3,"p":73.5203,"a":"right","s":"1,000"},{"t":37.9,"p":73.5203,"a":"right","s":"997"},{"t":41.5,"p":73.5203,"a":"right","s":"111"},
{"t":20.5,"p":73.5092,"a":"right","s":"910"},{"t":26.6,"p":73.5092,"a":"right","s":"204"},{"t":34.3,"p":73.5092,"a":"right","s":"20,400"},{"t":37.9,"p":73.5092,"a":"right","s":"4"},{"t":41.5,"p":73.5092,"a":"right","s":"100"}
],
"key":[
{"t":11.4,"p":73.6203,"e":"NQEX"},{"t":11.4,"p":73.6092,"e":"NYSE"},{"t":11.4,"p":73.5981,"e":"CBOE"},{"t":11.4,"p":73.587,"e":"PACF"},{"t":11.4,"p":73.5759,"e":"CINC"},{"t":11.4,"p":73.5647,"e":"PHIL"},{"t":11.3,"p":73.5536,"e":"BOST"},{"t":11.3,"p":73.5425,"e":"BATS"},{"t":11.3,"p":73.5314,"e":"BATY"},{"t":11.3,"p":73.5203,"e":"EDGE"},{"t":11.3,"p":73.5092,"e":"EDGX"}
],
"brand":[{"t":19.1,"p":74.1778,"s":"N"},{"t":32.6,"p":74.1778,"s":"a"},{"t":45.6,"p":74.1778,"s":"n"},{"t":58.1,"p":74.1778,"s":"e"},{"t":72.1,"p":74.1778,"s":"x"}],
"caption":[{"t":96.8,"v":4850,"s":"Trade Volume"}]
},
"resolve":{"scale":{"y":"independent","size":"independent","shape":"independent"},"axis":{"x":"independent"}},
"layer":[
{"data":{"name":"bands"},"mark":{"type":"rect","color":"#cccccc","stroke":"#cccccc","strokeWidth":0.6},"encoding":{"x":{"field":"t","type":"quantitative","title":null,"scale":{"domain":[-5.4,105.1],"nice":false,"zero":false,"padding":0},"axis":{"orient":"top","values":[0,5,10,15,20,25,30,35,40,45,50,55,60,65,70,75,80,85,90,95,100],"labelExpr":"datum.value==0?'09:37':datum.value==60?'09:38':format(datum.value%60,'02d')","grid":true,"gridDash":{"condition":{"test":"datum.value==0||datum.value==60","value":[]},"value":[5,4]},"labelPadding":2,"labelOverlap":false,"labelFlush":false}},"x2":{"field":"t2"},"y":{"field":"lo","type":"quantitative","title":null,"scale":{"domain":[73.3811,74.2311],"nice":false,"zero":false,"padding":0},"axis":{"orient":"left","values":[73.6,73.7,73.8,73.9,74,74.1,74.2],"format":".4f","grid":true,"gridDash":[5,4],"labelPadding":3}},"y2":{"field":"hi"}}},
{"data":{"name":"volume"},"mark":{"type":"bar","size":2,"orient":"vertical"},"encoding":{"x":{"field":"t","type":"quantitative","title":null,"scale":{"domain":[-5.4,105.1],"nice":false,"zero":false,"padding":0},"axis":{"orient":"bottom","values":[0,5,10,15,20,25,30,35,40,45,50,55,60,65,70,75,80,85,90,95,100],"labelExpr":"datum.value==0?'09:37':datum.value==60?'09:38':format(datum.value%60,'02d')","grid":false,"ticks":true,"tickSize":10,"tickColor":"#c8c8c8","labelPadding":0,"labelOverlap":false,"labelFlush":false}},"y":{"field":"v","type":"quantitative","stack":"zero","title":null,"scale":{"domain":[0,28545],"nice":false,"padding":0},"axis":{"orient":"left","values":[0,1000,2000,3000,4000,5000],"format":",d","grid":true,"gridDash":[5,4],"labelPadding":3}},"color":{"field":"e","type":"nominal","legend":null,"scale":{"domain":["NQEX","NYSE","CBOE","PACF","CINC","PHIL","BOST","BATS","BATY","EDGE","EDGX"],"range":["#000000","#3333ff","#8fce1e","#ff0000","#ffa510","#22cc22","#aaff00","#bb33ff","#ff33cc","#cc8a1e","#33b4ff"]}}}},
{"data":{"name":"marks"},"mark":{"type":"point","filled":true,"opacity":1,"strokeWidth":0},"encoding":{"x":{"field":"t","type":"quantitative","scale":{"domain":[-5.4,105.1],"nice":false,"zero":false,"padding":0},"axis":null},"y":{"field":"p","type":"quantitative","title":null,"scale":{"domain":[73.3811,74.2311],"nice":false,"zero":false,"padding":0},"axis":{"orient":"right","values":[73.6,73.7,73.8,73.9,74,74.1,74.2],"format":".4f","grid":false,"labelPadding":7}},"color":{"field":"e","type":"nominal","legend":null},"shape":{"field":"k","type":"nominal","legend":null,"scale":{"domain":["ask","bid","trade","large","box","dia"],"range":["M-1,0A1,1 0 0 1 1,0Z","M-1,0A1,1 0 0 0 1,0Z","circle","circle","square","diamond"]}},"size":{"field":"k","type":"nominal","legend":null,"scale":{"type":"ordinal","domain":["ask","bid","trade","large","box","dia"],"range":[130,130,90,200,81,100]}}}},
{"data":{"name":"caption"},"mark":{"type":"text","font":"DejaVu Sans Mono","fontSize":10,"color":"#000000"},"encoding":{"x":{"field":"t","type":"quantitative","scale":{"domain":[-5.4,105.1],"nice":false,"zero":false,"padding":0},"axis":null},"y":{"field":"v","type":"quantitative","title":null,"scale":{"domain":[0,28545],"nice":false,"padding":0},"axis":{"orient":"right","values":[0,1000,2000,3000,4000,5000],"format":",d","grid":false,"labelPadding":7}},"text":{"field":"s"}}},
{"data":{"name":"brand"},"mark":{"type":"text","font":"Liberation Sans","fontStyle":"italic","color":"#9999ff","baseline":"alphabetic"},"encoding":{"x":{"field":"t","type":"quantitative","scale":{"domain":[-5.4,105.1],"nice":false,"zero":false,"padding":0},"axis":null},"y":{"field":"p","type":"quantitative","scale":{"domain":[73.3811,74.2311],"nice":false,"zero":false,"padding":0},"axis":null},"text":{"field":"s"},"size":{"condition":{"test":"datum.s=='N'","value":48},"value":58}}},
{"data":{"name":"table"},"transform":[{"filter":"datum.a=='left'"}],"mark":{"type":"text","font":"DejaVu Sans Mono","fontSize":10,"color":"#000000","align":"left","baseline":"middle"},"encoding":{"x":{"field":"t","type":"quantitative","scale":{"domain":[-5.4,105.1],"nice":false,"zero":false,"padding":0},"axis":null},"y":{"field":"p","type":"quantitative","scale":{"domain":[73.3811,74.2311],"nice":false,"zero":false,"padding":0},"axis":null},"text":{"field":"s"}}},
{"data":{"name":"table"},"transform":[{"filter":"datum.a=='right'"}],"mark":{"type":"text","font":"DejaVu Sans Mono","fontSize":10,"color":"#000000","align":"right","baseline":"middle"},"encoding":{"x":{"field":"t","type":"quantitative","scale":{"domain":[-5.4,105.1],"nice":false,"zero":false,"padding":0},"axis":null},"y":{"field":"p","type":"quantitative","scale":{"domain":[73.3811,74.2311],"nice":false,"zero":false,"padding":0},"axis":null},"text":{"field":"s"}}},
{"data":{"name":"key"},"mark":{"type":"point","filled":true,"opacity":1,"strokeWidth":0},"encoding":{"x":{"field":"t","type":"quantitative","scale":{"domain":[-5.4,105.1],"nice":false,"zero":false,"padding":0},"axis":null},"y":{"field":"p","type":"quantitative","scale":{"domain":[73.3811,74.2311],"nice":false,"zero":false,"padding":0},"axis":null},"color":{"field":"e","type":"nominal","legend":null},"shape":{"field":"e","type":"nominal","legend":null,"scale":{"domain":["NQEX","NYSE","CBOE","PACF","CINC","PHIL","BOST","BATS","BATY","EDGE","EDGX"],"range":["circle","circle","circle","circle","circle","circle","square","diamond","diamond","diamond","diamond"]}},"size":{"field":"e","type":"nominal","legend":null,"scale":{"type":"ordinal","domain":["NQEX","NYSE","CBOE","PACF","CINC","PHIL","BOST","BATS","BATY","EDGE","EDGX"],"range":[30,30,30,30,30,30,121,121,196,110,50]}}}}
]
}
